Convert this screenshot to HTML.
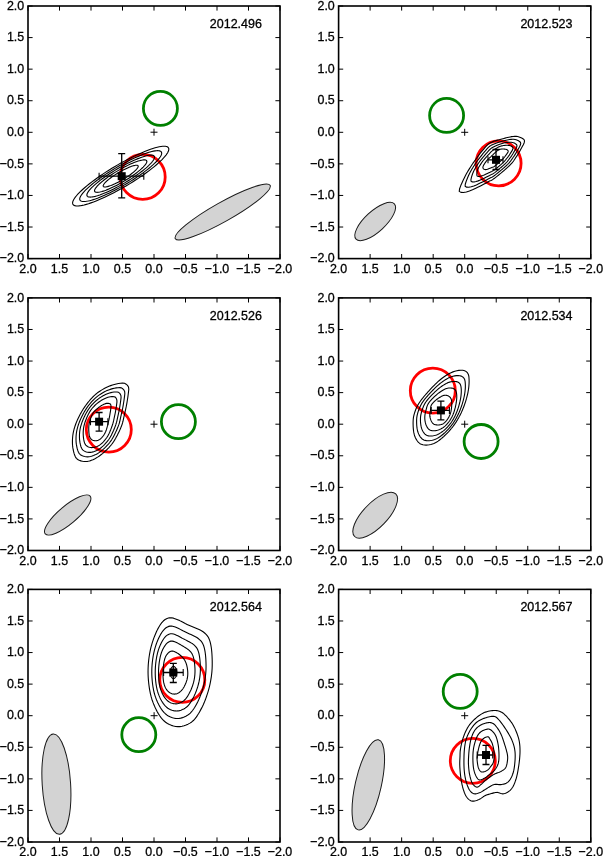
<!DOCTYPE html><html><head><meta charset="utf-8"><style>html,body{margin:0;padding:0;background:#fff;overflow:hidden}svg{display:block}text{font-family:"Liberation Sans",sans-serif;fill:#000;stroke:#000;stroke-width:0.3px}</style></head><body>
<svg width="603" height="856" viewBox="0 0 603 856" style="will-change:transform">
<rect width="603" height="856" fill="#fff"/>
<clipPath id="c0"><rect x="28" y="6" width="252" height="252.6"/></clipPath>
<g clip-path="url(#c0)">
<ellipse cx="0" cy="0" rx="54.4" ry="9.6" transform="translate(222.7 212) rotate(-29.4)" fill="#d3d3d3" stroke="#1a1a1a" stroke-width="1"/><circle cx="160.4" cy="108.4" r="17" fill="none" stroke="#008000" stroke-width="2.8"/><circle cx="142.7" cy="176.9" r="22.5" fill="none" stroke="#ff0000" stroke-width="2.8"/><path d="M168.47 147.85 168.74 148.54 168.81 149.35 168.67 150.27 168.32 151.31 167.77 152.45 167.02 153.69 166.07 155.03 164.92 156.45 163.59 157.97 162.07 159.55 160.38 161.22 158.51 162.94 156.48 164.72 154.3 166.55 151.98 168.42 149.52 170.32 146.94 172.25 144.25 174.19 141.45 176.15 138.57 178.1 135.61 180.04 132.59 181.97 129.51 183.87 126.4 185.74 123.26 187.57 120.12 189.35 116.97 191.07 113.84 192.72 110.74 194.31 107.69 195.82 104.68 197.24 101.75 198.57 98.9 199.81 96.14 200.95 93.49 201.98 90.95 202.89 88.54 203.7 86.27 204.38 84.15 204.95 82.18 205.39 80.38 205.7 78.75 205.89 77.3 205.95 76.03 205.88 74.96 205.69 74.08 205.37 73.4 204.92 72.93 204.35 72.66 203.66 72.59 202.85 72.73 201.93 73.08 200.89 73.63 199.75 74.38 198.51 75.33 197.17 76.48 195.75 77.81 194.23 79.33 192.65 81.02 190.98 82.89 189.26 84.92 187.48 87.1 185.65 89.42 183.78 91.88 181.88 94.46 179.95 97.15 178.01 99.95 176.05 102.83 174.1 105.79 172.16 108.81 170.23 111.89 168.33 115 166.46 118.14 164.63 121.28 162.85 124.43 161.13 127.56 159.48 130.66 157.89 133.71 156.38 136.72 154.96 139.65 153.63 142.5 152.39 145.26 151.25 147.91 150.22 150.45 149.31 152.86 148.5 155.13 147.82 157.25 147.25 159.22 146.81 161.02 146.5 162.65 146.31 164.1 146.25 165.37 146.32 166.44 146.51 167.32 146.83 168 147.28ZM161.4 152.03 161.63 152.62 161.69 153.31 161.57 154.09 161.27 154.98 160.8 155.95 160.16 157 159.35 158.14 158.38 159.36 157.24 160.65 155.95 162 154.5 163.42 152.91 164.89 151.19 166.4 149.33 167.96 147.35 169.56 145.26 171.18 143.06 172.82 140.76 174.48 138.38 176.14 135.93 177.8 133.4 179.46 130.83 181.1 128.21 182.72 125.56 184.31 122.89 185.87 120.2 187.39 117.52 188.85 114.86 190.26 112.22 191.61 109.61 192.9 107.05 194.11 104.56 195.25 102.13 196.3 99.78 197.27 97.52 198.15 95.35 198.93 93.3 199.61 91.37 200.2 89.56 200.68 87.88 201.05 86.34 201.32 84.96 201.48 83.72 201.53 82.64 201.48 81.73 201.31 80.98 201.04 80.4 200.66 80 200.17 79.77 199.58 79.71 198.89 79.83 198.11 80.13 197.22 80.6 196.25 81.24 195.2 82.05 194.06 83.02 192.84 84.16 191.55 85.45 190.2 86.9 188.78 88.49 187.31 90.21 185.8 92.07 184.24 94.05 182.64 96.14 181.02 98.34 179.38 100.64 177.72 103.02 176.06 105.47 174.4 108 172.74 110.57 171.1 113.19 169.48 115.84 167.89 118.51 166.33 121.2 164.81 123.88 163.35 126.54 161.94 129.18 160.59 131.79 159.3 134.35 158.09 136.84 156.95 139.27 155.9 141.62 154.93 143.88 154.05 146.05 153.27 148.1 152.59 150.03 152 151.84 151.52 153.52 151.15 155.06 150.88 156.44 150.72 157.68 150.67 158.76 150.72 159.67 150.89 160.42 151.16 161 151.54ZM154.28 156.24 154.47 156.72 154.52 157.29 154.42 157.94 154.18 158.67 153.79 159.47 153.26 160.34 152.59 161.28 151.79 162.29 150.85 163.35 149.78 164.47 148.59 165.64 147.28 166.85 145.86 168.1 144.32 169.39 142.69 170.7 140.96 172.04 139.15 173.39 137.25 174.76 135.29 176.13 133.26 177.51 131.18 178.87 129.06 180.23 126.9 181.56 124.71 182.88 122.5 184.16 120.29 185.41 118.08 186.62 115.88 187.79 113.7 188.9 111.55 189.96 109.44 190.96 107.38 191.9 105.37 192.77 103.44 193.57 101.57 194.29 99.79 194.94 98.09 195.5 96.5 195.98 95 196.38 93.62 196.69 92.35 196.91 91.21 197.04 90.19 197.09 89.3 197.04 88.54 196.9 87.93 196.68 87.45 196.36 87.12 195.96 86.93 195.48 86.88 194.91 86.98 194.26 87.22 193.53 87.61 192.73 88.14 191.86 88.81 190.92 89.61 189.91 90.55 188.85 91.62 187.73 92.81 186.56 94.12 185.35 95.54 184.1 97.08 182.81 98.71 181.5 100.44 180.16 102.25 178.81 104.15 177.44 106.11 176.07 108.14 174.69 110.22 173.33 112.34 171.97 114.5 170.64 116.69 169.32 118.9 168.04 121.11 166.79 123.32 165.58 125.52 164.41 127.7 163.3 129.85 162.24 131.96 161.24 134.02 160.3 136.03 159.43 137.96 158.63 139.83 157.91 141.61 157.26 143.31 156.7 144.9 156.22 146.4 155.82 147.78 155.51 149.05 155.29 150.19 155.16 151.21 155.11 152.1 155.16 152.86 155.3 153.47 155.52 153.95 155.84ZM146.69 160.73 146.83 161.11 146.87 161.55 146.79 162.05 146.6 162.61 146.31 163.23 145.9 163.91 145.38 164.64 144.76 165.41 144.03 166.23 143.21 167.1 142.28 168 141.27 168.94 140.17 169.91 138.98 170.9 137.72 171.92 136.38 172.96 134.98 174.01 133.51 175.06 131.99 176.13 130.42 177.19 128.81 178.25 127.17 179.29 125.49 180.33 123.8 181.34 122.1 182.34 120.38 183.31 118.67 184.24 116.97 185.14 115.28 186.01 113.62 186.83 111.99 187.6 110.39 188.33 108.84 189 107.34 189.62 105.9 190.18 104.52 190.68 103.21 191.11 101.97 191.49 100.82 191.79 99.74 192.03 98.76 192.2 97.88 192.31 97.09 192.34 96.4 192.3 95.82 192.2 95.34 192.02 94.97 191.78 94.71 191.47 94.57 191.09 94.53 190.65 94.61 190.15 94.8 189.59 95.09 188.97 95.5 188.29 96.02 187.56 96.64 186.79 97.37 185.97 98.19 185.1 99.12 184.2 100.13 183.26 101.23 182.29 102.42 181.3 103.68 180.28 105.02 179.24 106.42 178.19 107.89 177.14 109.41 176.07 110.98 175.01 112.59 173.95 114.23 172.91 115.91 171.87 117.6 170.86 119.3 169.86 121.02 168.89 122.73 167.96 124.43 167.06 126.12 166.19 127.78 165.37 129.41 164.6 131.01 163.87 132.56 163.2 134.06 162.58 135.5 162.02 136.88 161.52 138.19 161.09 139.43 160.71 140.58 160.41 141.66 160.17 142.64 160 143.52 159.89 144.31 159.86 145 159.9 145.58 160 146.06 160.18 146.43 160.42ZM138.09 165.82 138.19 166.07 138.21 166.36 138.16 166.7 138.03 167.07 137.83 167.49 137.56 167.94 137.21 168.43 136.8 168.95 136.31 169.5 135.76 170.08 135.14 170.68 134.46 171.31 133.73 171.96 132.93 172.62 132.09 173.3 131.19 174 130.25 174.7 129.27 175.41 128.25 176.12 127.21 176.83 126.13 177.54 125.03 178.24 123.91 178.93 122.78 179.61 121.63 180.27 120.49 180.92 119.34 181.55 118.2 182.15 117.08 182.73 115.96 183.28 114.87 183.8 113.8 184.28 112.76 184.73 111.76 185.14 110.8 185.52 109.87 185.85 108.99 186.15 108.17 186.39 107.39 186.6 106.68 186.76 106.02 186.88 105.43 186.94 104.9 186.97 104.44 186.94 104.05 186.87 103.73 186.75 103.48 186.59 103.31 186.38 103.21 186.13 103.19 185.84 103.24 185.5 103.37 185.13 103.57 184.71 103.84 184.26 104.19 183.77 104.6 183.25 105.09 182.7 105.64 182.12 106.26 181.52 106.94 180.89 107.67 180.24 108.47 179.58 109.31 178.9 110.21 178.2 111.15 177.5 112.13 176.79 113.15 176.08 114.19 175.37 115.27 174.66 116.37 173.96 117.49 173.27 118.62 172.59 119.77 171.93 120.91 171.28 122.06 170.65 123.2 170.05 124.32 169.47 125.44 168.92 126.53 168.4 127.6 167.92 128.64 167.47 129.64 167.06 130.6 166.68 131.53 166.35 132.41 166.05 133.23 165.81 134.01 165.6 134.72 165.44 135.38 165.32 135.97 165.26 136.5 165.23 136.96 165.26 137.35 165.33 137.67 165.45 137.92 165.61Z" fill="none" stroke="#000" stroke-width="1.1" stroke-linejoin="round"/><path d="M150.5 132.2h7M154 128.7v7" stroke="#000" stroke-width="1" fill="none"/><path d="M121.7 153.7V197.9M118.2 153.7h7M118.2 197.9h7" stroke="#000" stroke-width="1.3" fill="none"/><path d="M99.1 176.2H143.8" stroke="#000" stroke-width="1.3" fill="none"/><path d="M99.1 172.7v7M143.8 172.7v7" stroke="#000" stroke-width="1.1" fill="none"/><rect x="117.7" y="172.2" width="8" height="8" fill="#000"/>
</g>
<path d="M28 258.6v-4.6M28 6v4.6M28 6h4.6M280 6h-4.6M59.5 258.6v-4.6M59.5 6v4.6M28 37.58h4.6M280 37.58h-4.6M91 258.6v-4.6M91 6v4.6M28 69.15h4.6M280 69.15h-4.6M122.5 258.6v-4.6M122.5 6v4.6M28 100.73h4.6M280 100.73h-4.6M154 258.6v-4.6M154 6v4.6M28 132.3h4.6M280 132.3h-4.6M185.5 258.6v-4.6M185.5 6v4.6M28 163.88h4.6M280 163.88h-4.6M217 258.6v-4.6M217 6v4.6M28 195.45h4.6M280 195.45h-4.6M248.5 258.6v-4.6M248.5 6v4.6M28 227.03h4.6M280 227.03h-4.6M280 258.6v-4.6M280 6v4.6M28 258.6h4.6M280 258.6h-4.6" stroke="#000" stroke-width="1.0" fill="none"/>
<rect x="28" y="6" width="252" height="252.6" fill="none" stroke="#000" stroke-width="1.6"/>
<g font-size="13.4"><text transform="translate(28 272.9) scale(0.93 1)" text-anchor="middle">2.0</text><text transform="translate(24.2 9.7) scale(0.93 1)" text-anchor="end">2.0</text><text transform="translate(59.5 272.9) scale(0.93 1)" text-anchor="middle">1.5</text><text transform="translate(24.2 41.28) scale(0.93 1)" text-anchor="end">1.5</text><text transform="translate(91 272.9) scale(0.93 1)" text-anchor="middle">1.0</text><text transform="translate(24.2 72.85) scale(0.93 1)" text-anchor="end">1.0</text><text transform="translate(122.5 272.9) scale(0.93 1)" text-anchor="middle">0.5</text><text transform="translate(24.2 104.43) scale(0.93 1)" text-anchor="end">0.5</text><text transform="translate(154 272.9) scale(0.93 1)" text-anchor="middle">0.0</text><text transform="translate(24.2 136) scale(0.93 1)" text-anchor="end">0.0</text><text transform="translate(185.5 272.9) scale(0.93 1)" text-anchor="middle">−0.5</text><text transform="translate(24.2 167.57) scale(0.93 1)" text-anchor="end">−0.5</text><text transform="translate(217 272.9) scale(0.93 1)" text-anchor="middle">−1.0</text><text transform="translate(24.2 199.15) scale(0.93 1)" text-anchor="end">−1.0</text><text transform="translate(248.5 272.9) scale(0.93 1)" text-anchor="middle">−1.5</text><text transform="translate(24.2 230.73) scale(0.93 1)" text-anchor="end">−1.5</text><text transform="translate(280 272.9) scale(0.93 1)" text-anchor="middle">−2.0</text><text transform="translate(24.2 262.3) scale(0.93 1)" text-anchor="end">−2.0</text></g>
<text x="209.8" y="28" font-size="12.5">2012.496</text>
<clipPath id="c1"><rect x="338.6" y="6" width="252.2" height="252.6"/></clipPath>
<g clip-path="url(#c1)">
<ellipse cx="0" cy="0" rx="26" ry="10.2" transform="translate(375.2 221.5) rotate(-42.5)" fill="#d3d3d3" stroke="#1a1a1a" stroke-width="1"/><circle cx="446.6" cy="115.4" r="17" fill="none" stroke="#008000" stroke-width="2.8"/><circle cx="498.6" cy="163.3" r="22.5" fill="none" stroke="#ff0000" stroke-width="2.8"/><path d="M514.21 160 513.73 160.7 513.25 161.36 512.78 161.99 512.29 162.58 511.82 163.15 511.34 163.68 510.87 164.19 510.41 164.68 509.95 165.15 509.5 165.59 509.06 166.02 508.62 166.43 508.19 166.83 507.77 167.21 507.36 167.59 506.95 167.96 506.55 168.32 506.15 168.67 505.75 169.02 505.36 169.36 504.97 169.7 504.58 170.04 504.18 170.38 503.79 170.72 503.39 171.06 502.99 171.4 502.58 171.75 502.16 172.1 501.74 172.45 501.31 172.82 500.86 173.19 500.41 173.56 499.94 173.95 499.45 174.36 498.94 174.77 498.41 175.2 497.85 175.65 497.27 176.12 496.65 176.61 496 177.12 495.31 177.66 494.57 178.23 493.77 178.8 492.93 179.38 492.04 179.92 491.1 180.4 490.12 180.85 489.06 181.35 487.9 181.97 486.61 182.67 485.19 183.45 483.62 184.3 481.87 185.23 479.92 186.24 477.74 187.32 475.28 188.52 472.49 189.82 469.44 191.09 466.37 192.06 463.44 192.56 460.95 192.4 459.24 191.4 459.61 188.69 460.77 185.59 462.04 182.69 463.26 180.06 464.41 177.69 465.49 175.55 466.55 173.58 467.58 171.77 468.56 170.12 469.49 168.61 470.36 167.23 471.18 165.96 471.93 164.79 472.66 163.7 473.35 162.68 474.02 161.73 474.65 160.84 475.25 160 475.83 159.21 476.38 158.46 476.91 157.74 477.42 157.06 477.9 156.4 478.37 155.77 478.82 155.15 479.26 154.56 479.68 153.98 480.1 153.41 480.51 152.86 480.93 152.32 481.35 151.8 481.78 151.28 482.21 150.78 482.64 150.29 483.07 149.81 483.49 149.32 483.91 148.82 484.32 148.32 484.73 147.81 485.15 147.29 485.58 146.78 486.03 146.27 486.49 145.77 486.98 145.28 487.49 144.81 488.03 144.35 488.59 143.92 489.17 143.51 489.78 143.13 490.41 142.79 491.05 142.46 491.72 142.16 492.4 141.88 493.09 141.61 493.79 141.35 494.51 141.1 495.25 140.85 496 140.62 496.77 140.38 497.56 140.15 498.38 139.92 499.22 139.68 500.09 139.45 500.99 139.21 501.93 138.96 502.92 138.7 503.96 138.43 505.06 138.14 506.22 137.84 507.45 137.53 508.75 137.23 510.13 136.93 511.59 136.66 513.11 136.45 514.67 136.32 516.2 136.34 517.67 136.56 519.07 136.93 520.41 137.44 521.69 138.06 522.94 138.76 524.05 139.62 524.53 140.93 524.2 142.72 523.32 144.7 522.3 146.6 521.36 148.31 520.53 149.84 519.75 151.24 519.01 152.52 518.3 153.71 517.61 154.81 516.95 155.83 516.31 156.78 515.73 157.66 515.2 158.49 514.7 159.27ZM511.35 160 510.93 160.59 510.51 161.14 510.09 161.67 509.68 162.17 509.27 162.64 508.87 163.09 508.47 163.52 508.07 163.92 507.69 164.31 507.31 164.68 506.94 165.04 506.57 165.39 506.21 165.72 505.86 166.04 505.51 166.36 505.17 166.66 504.84 166.97 504.5 167.26 504.17 167.55 503.84 167.84 503.51 168.13 503.18 168.41 502.86 168.7 502.53 168.98 502.19 169.27 501.85 169.55 501.51 169.84 501.16 170.14 500.81 170.43 500.45 170.74 500.08 171.05 499.69 171.37 499.3 171.69 498.89 172.03 498.46 172.38 498.02 172.74 497.55 173.12 497.06 173.51 496.55 173.93 496 174.36 495.42 174.81 494.8 175.29 494.13 175.78 493.42 176.26 492.67 176.73 491.88 177.15 491.05 177.55 490.16 177.98 489.17 178.5 488.1 179.08 486.91 179.71 485.61 180.39 484.16 181.15 482.53 181.97 480.72 182.86 478.68 183.84 476.36 184.92 473.81 185.98 471.23 186.8 468.75 187.25 466.63 187.15 465.13 186.36 465.27 184.22 466.04 181.76 466.92 179.43 467.8 177.28 468.66 175.31 469.52 173.49 470.41 171.8 471.29 170.23 472.14 168.8 472.95 167.49 473.71 166.29 474.42 165.18 475.09 164.16 475.73 163.21 476.33 162.33 476.92 161.5 477.48 160.73 478.02 160 478.54 159.31 479.04 158.66 479.51 158.05 479.97 157.46 480.41 156.9 480.83 156.36 481.23 155.83 481.62 155.33 482 154.84 482.37 154.35 482.74 153.89 483.1 153.43 483.47 152.98 483.84 152.55 484.21 152.12 484.58 151.71 484.96 151.29 485.32 150.88 485.68 150.46 486.03 150.03 486.39 149.6 486.75 149.17 487.12 148.74 487.51 148.31 487.9 147.88 488.32 147.47 488.75 147.06 489.21 146.67 489.68 146.29 490.17 145.93 490.69 145.6 491.22 145.29 491.77 144.99 492.33 144.71 492.91 144.45 493.49 144.18 494.1 143.93 494.72 143.68 495.35 143.43 496 143.19 496.67 142.94 497.36 142.69 498.08 142.45 498.82 142.2 499.59 141.95 500.39 141.7 501.23 141.44 502.11 141.19 503.03 140.94 504 140.68 505.02 140.43 506.1 140.17 507.24 139.93 508.44 139.7 509.7 139.5 511.01 139.34 512.35 139.26 513.68 139.3 514.96 139.49 516.18 139.82 517.34 140.27 518.45 140.83 519.5 141.47 520.4 142.27 520.75 143.47 520.37 145.07 519.53 146.83 518.59 148.49 517.75 149.97 517.01 151.3 516.31 152.51 515.64 153.62 515 154.64 514.39 155.59 513.79 156.46 513.22 157.27 512.71 158.02 512.23 158.72 511.78 159.38ZM508.49 160 508.12 160.48 507.76 160.93 507.41 161.35 507.07 161.75 506.73 162.13 506.39 162.49 506.07 162.84 505.74 163.17 505.43 163.48 505.12 163.78 504.82 164.06 504.52 164.34 504.23 164.61 503.95 164.87 503.67 165.12 503.39 165.37 503.12 165.61 502.85 165.85 502.58 166.09 502.32 166.32 502.06 166.55 501.79 166.78 501.53 167.01 501.26 167.24 500.99 167.47 500.72 167.7 500.44 167.94 500.16 168.17 499.88 168.41 499.59 168.66 499.29 168.91 498.98 169.17 498.66 169.43 498.33 169.71 497.99 169.99 497.63 170.28 497.25 170.59 496.86 170.91 496.44 171.24 496 171.6 495.53 171.96 495.03 172.35 494.49 172.75 493.92 173.15 493.31 173.54 492.66 173.9 491.98 174.25 491.25 174.62 490.45 175.04 489.58 175.5 488.64 175.97 487.6 176.49 486.44 177.07 485.15 177.71 483.71 178.4 482.07 179.17 480.22 180.02 478.18 180.87 476.09 181.54 474.06 181.94 472.3 181.91 471.03 181.33 470.93 179.76 471.31 177.93 471.8 176.17 472.34 174.5 472.91 172.93 473.56 171.43 474.27 170.02 475 168.7 475.72 167.48 476.41 166.37 477.06 165.34 477.67 164.4 478.24 163.53 478.79 162.73 479.32 161.97 479.82 161.27 480.31 160.62 480.78 160 481.24 159.42 481.69 158.87 482.11 158.36 482.52 157.87 482.91 157.4 483.29 156.95 483.64 156.51 483.99 156.1 484.32 155.69 484.64 155.3 484.96 154.91 485.28 154.54 485.59 154.17 485.9 153.81 486.22 153.46 486.53 153.12 486.84 152.78 487.15 152.44 487.45 152.1 487.75 151.75 488.05 151.4 488.35 151.05 488.66 150.69 488.98 150.34 489.31 149.99 489.66 149.65 490.02 149.31 490.39 148.99 490.78 148.67 491.18 148.36 491.6 148.07 492.03 147.79 492.48 147.52 492.94 147.27 493.42 147.01 493.9 146.76 494.4 146.51 494.92 146.26 495.45 146.01 496 145.76 496.57 145.5 497.16 145.24 497.78 144.98 498.42 144.71 499.09 144.44 499.8 144.18 500.53 143.93 501.3 143.68 502.11 143.45 502.95 143.22 503.83 143.01 504.76 142.81 505.73 142.63 506.74 142.47 507.81 142.33 508.91 142.24 510.03 142.2 511.16 142.25 512.25 142.42 513.29 142.71 514.27 143.11 515.2 143.6 516.06 144.19 516.76 144.92 516.96 146 516.53 147.42 515.73 148.95 514.88 150.38 514.14 151.64 513.48 152.76 512.87 153.78 512.28 154.71 511.71 155.57 511.16 156.36 510.64 157.09 510.14 157.76 509.68 158.38 509.26 158.96 508.87 159.49ZM505.5 160 505.19 160.36 504.9 160.7 504.62 161.02 504.34 161.32 504.07 161.61 503.81 161.87 503.56 162.13 503.31 162.38 503.07 162.61 502.83 162.83 502.61 163.05 502.38 163.25 502.17 163.45 501.95 163.65 501.74 163.84 501.54 164.02 501.33 164.2 501.13 164.38 500.93 164.56 500.73 164.73 500.54 164.91 500.34 165.08 500.14 165.25 499.94 165.42 499.74 165.6 499.54 165.77 499.33 165.95 499.12 166.13 498.91 166.31 498.69 166.49 498.47 166.68 498.23 166.88 498 167.08 497.75 167.28 497.49 167.5 497.22 167.72 496.94 167.95 496.64 168.19 496.33 168.44 496 168.71 495.65 168.99 495.27 169.28 494.87 169.59 494.43 169.9 493.97 170.21 493.48 170.51 492.95 170.8 492.39 171.1 491.78 171.43 491.13 171.75 490.43 172.08 489.67 172.42 488.83 172.81 487.88 173.25 486.82 173.74 485.61 174.3 484.25 174.91 482.74 175.53 481.16 176.05 479.6 176.4 478.22 176.44 477.18 176.08 476.84 175.1 476.81 173.94 476.9 172.76 477.07 171.6 477.35 170.44 477.77 169.29 478.3 168.16 478.88 167.09 479.45 166.1 480.01 165.19 480.55 164.36 481.06 163.59 481.54 162.88 481.99 162.22 482.43 161.61 482.85 161.03 483.26 160.5 483.67 160 484.07 159.53 484.45 159.09 484.83 158.68 485.19 158.29 485.53 157.92 485.85 157.56 486.16 157.22 486.45 156.9 486.74 156.58 487.01 156.28 487.28 155.98 487.54 155.69 487.8 155.41 488.06 155.13 488.31 154.86 488.56 154.6 488.81 154.33 489.06 154.07 489.3 153.81 489.54 153.54 489.78 153.27 490.02 153 490.27 152.73 490.53 152.46 490.78 152.19 491.05 151.93 491.33 151.66 491.62 151.4 491.92 151.15 492.23 150.89 492.55 150.65 492.88 150.41 493.23 150.16 493.58 149.93 493.95 149.69 494.33 149.45 494.72 149.2 495.13 148.96 495.56 148.7 496 148.44 496.46 148.17 496.95 147.9 497.47 147.62 498.01 147.34 498.58 147.05 499.17 146.78 499.8 146.52 500.46 146.28 501.14 146.07 501.85 145.88 502.59 145.71 503.35 145.57 504.15 145.45 504.98 145.35 505.83 145.29 506.71 145.26 507.61 145.27 508.52 145.34 509.42 145.48 510.27 145.73 511.08 146.06 511.81 146.5 512.46 147.02 512.95 147.69 513 148.64 512.53 149.87 511.77 151.17 511.01 152.35 510.37 153.38 509.81 154.28 509.28 155.1 508.77 155.85 508.28 156.54 507.8 157.17 507.35 157.74 506.92 158.27 506.52 158.75 506.16 159.2 505.82 159.61ZM501.77 160 501.54 160.22 501.32 160.42 501.12 160.61 500.93 160.78 500.75 160.94 500.58 161.1 500.42 161.25 500.27 161.39 500.12 161.52 499.98 161.65 499.84 161.77 499.71 161.89 499.58 162.01 499.46 162.12 499.33 162.23 499.21 162.34 499.1 162.44 498.98 162.54 498.86 162.65 498.75 162.75 498.63 162.85 498.52 162.95 498.41 163.05 498.29 163.15 498.17 163.25 498.06 163.36 497.94 163.46 497.82 163.57 497.69 163.67 497.57 163.78 497.44 163.9 497.3 164.01 497.16 164.13 497.02 164.25 496.87 164.38 496.71 164.51 496.55 164.65 496.38 164.79 496.19 164.95 496 165.11 495.79 165.27 495.57 165.45 495.33 165.64 495.07 165.84 494.8 166.05 494.49 166.27 494.17 166.49 493.82 166.71 493.45 166.91 493.07 167.07 492.68 167.2 492.26 167.33 491.81 167.49 491.29 167.68 490.7 167.93 490.04 168.21 489.28 168.52 488.43 168.86 487.5 169.19 486.53 169.47 485.62 169.6 484.87 169.51 484.22 169.28 483.69 168.95 483.27 168.51 482.99 167.97 482.9 167.34 483.03 166.61 483.34 165.84 483.72 165.09 484.12 164.38 484.52 163.73 484.92 163.13 485.29 162.57 485.65 162.06 485.99 161.59 486.32 161.15 486.63 160.74 486.95 160.36 487.27 160 487.6 159.67 487.91 159.36 488.22 159.08 488.52 158.81 488.79 158.57 489.06 158.33 489.3 158.11 489.54 157.9 489.76 157.7 489.98 157.5 490.18 157.32 490.38 157.13 490.57 156.96 490.75 156.78 490.93 156.61 491.1 156.44 491.27 156.27 491.44 156.11 491.61 155.94 491.78 155.78 491.95 155.61 492.11 155.45 492.28 155.28 492.45 155.12 492.62 154.95 492.8 154.78 492.98 154.6 493.16 154.43 493.35 154.24 493.54 154.06 493.74 153.87 493.94 153.67 494.16 153.46 494.38 153.25 494.61 153.04 494.86 152.81 495.12 152.57 495.4 152.32 495.69 152.06 496 151.8 496.33 151.51 496.69 151.22 497.07 150.92 497.49 150.62 497.93 150.3 498.4 150.02 498.89 149.76 499.4 149.54 499.93 149.34 500.48 149.19 501.03 149.08 501.6 149.01 502.18 148.97 502.76 148.96 503.36 148.98 503.97 149.03 504.59 149.1 505.23 149.19 505.88 149.31 506.5 149.5 507.08 149.76 507.58 150.11 507.97 150.56 508.19 151.14 508.06 151.94 507.53 152.94 506.83 153.94 506.18 154.81 505.66 155.55 505.21 156.18 504.79 156.76 504.38 157.28 503.98 157.75 503.6 158.18 503.23 158.56 502.89 158.91 502.58 159.22 502.28 159.51 502.02 159.76Z" fill="none" stroke="#000" stroke-width="1.1" stroke-linejoin="round"/><path d="M461.2 132.3h7M464.7 128.8v7" stroke="#000" stroke-width="1" fill="none"/><path d="M496 149.5V169.5M492.5 149.5h7M492.5 169.5h7" stroke="#000" stroke-width="1.3" fill="none"/><path d="M488 159.8H503" stroke="#000" stroke-width="1.3" fill="none"/><path d="M488 156.3v7M503 156.3v7" stroke="#000" stroke-width="1.1" fill="none"/><rect x="492" y="155.8" width="8" height="8" fill="#000"/>
</g>
<path d="M338.6 258.6v-4.6M338.6 6v4.6M338.6 6h4.6M590.8 6h-4.6M370.12 258.6v-4.6M370.12 6v4.6M338.6 37.58h4.6M590.8 37.58h-4.6M401.65 258.6v-4.6M401.65 6v4.6M338.6 69.15h4.6M590.8 69.15h-4.6M433.18 258.6v-4.6M433.18 6v4.6M338.6 100.73h4.6M590.8 100.73h-4.6M464.7 258.6v-4.6M464.7 6v4.6M338.6 132.3h4.6M590.8 132.3h-4.6M496.22 258.6v-4.6M496.22 6v4.6M338.6 163.88h4.6M590.8 163.88h-4.6M527.75 258.6v-4.6M527.75 6v4.6M338.6 195.45h4.6M590.8 195.45h-4.6M559.27 258.6v-4.6M559.27 6v4.6M338.6 227.03h4.6M590.8 227.03h-4.6M590.8 258.6v-4.6M590.8 6v4.6M338.6 258.6h4.6M590.8 258.6h-4.6" stroke="#000" stroke-width="1.0" fill="none"/>
<rect x="338.6" y="6" width="252.2" height="252.6" fill="none" stroke="#000" stroke-width="1.6"/>
<g font-size="13.4"><text transform="translate(338.6 272.9) scale(0.93 1)" text-anchor="middle">2.0</text><text transform="translate(334.8 9.7) scale(0.93 1)" text-anchor="end">2.0</text><text transform="translate(370.12 272.9) scale(0.93 1)" text-anchor="middle">1.5</text><text transform="translate(334.8 41.28) scale(0.93 1)" text-anchor="end">1.5</text><text transform="translate(401.65 272.9) scale(0.93 1)" text-anchor="middle">1.0</text><text transform="translate(334.8 72.85) scale(0.93 1)" text-anchor="end">1.0</text><text transform="translate(433.18 272.9) scale(0.93 1)" text-anchor="middle">0.5</text><text transform="translate(334.8 104.43) scale(0.93 1)" text-anchor="end">0.5</text><text transform="translate(464.7 272.9) scale(0.93 1)" text-anchor="middle">0.0</text><text transform="translate(334.8 136) scale(0.93 1)" text-anchor="end">0.0</text><text transform="translate(496.22 272.9) scale(0.93 1)" text-anchor="middle">−0.5</text><text transform="translate(334.8 167.57) scale(0.93 1)" text-anchor="end">−0.5</text><text transform="translate(527.75 272.9) scale(0.93 1)" text-anchor="middle">−1.0</text><text transform="translate(334.8 199.15) scale(0.93 1)" text-anchor="end">−1.0</text><text transform="translate(559.27 272.9) scale(0.93 1)" text-anchor="middle">−1.5</text><text transform="translate(334.8 230.73) scale(0.93 1)" text-anchor="end">−1.5</text><text transform="translate(590.8 272.9) scale(0.93 1)" text-anchor="middle">−2.0</text><text transform="translate(334.8 262.3) scale(0.93 1)" text-anchor="end">−2.0</text></g>
<text x="520.4" y="28" font-size="12.5">2012.523</text>
<clipPath id="c2"><rect x="28" y="297.9" width="252" height="252.6"/></clipPath>
<g clip-path="url(#c2)">
<ellipse cx="0" cy="0" rx="29.3" ry="9" transform="translate(67.7 515) rotate(-40)" fill="#d3d3d3" stroke="#1a1a1a" stroke-width="1"/><circle cx="178.4" cy="421.7" r="17" fill="none" stroke="#008000" stroke-width="2.8"/><circle cx="108.8" cy="429.6" r="22.5" fill="none" stroke="#ff0000" stroke-width="2.8"/><path d="M122.91 421.5 122.67 422.43 122.41 423.34 122.12 424.24 121.82 425.11 121.5 425.98 121.18 426.82 120.84 427.66 120.5 428.48 120.15 429.3 119.79 430.11 119.42 430.91 119.05 431.71 118.66 432.51 118.27 433.31 117.87 434.11 117.46 434.91 117.03 435.72 116.6 436.53 116.15 437.36 115.7 438.2 115.22 439.05 114.72 439.91 114.19 440.77 113.64 441.65 113.04 442.52 112.42 443.39 111.75 444.26 111.04 445.13 110.29 446 109.51 446.87 108.69 447.76 107.82 448.66 106.92 449.56 105.96 450.49 104.95 451.43 103.89 452.38 102.77 453.35 101.58 454.31 100.33 455.27 99 456.23 97.6 457.15 96.12 458.05 94.57 458.9 92.95 459.68 91.27 460.36 89.53 460.93 87.77 461.33 86 461.52 84.26 461.46 82.53 461.25 80.84 460.88 79.22 460.32 77.71 459.52 76.41 458.37 75.38 456.84 74.61 455.07 74.01 453.2 73.54 451.31 73.14 449.48 72.82 447.68 72.6 445.91 72.47 444.16 72.42 442.46 72.42 440.81 72.48 439.22 72.58 437.69 72.72 436.22 72.9 434.8 73.12 433.43 73.37 432.12 73.65 430.85 73.96 429.64 74.28 428.47 74.62 427.35 74.96 426.28 75.31 425.25 75.67 424.26 76.03 423.31 76.39 422.39 76.75 421.5 77.12 420.64 77.48 419.81 77.85 419 78.22 418.21 78.59 417.44 78.96 416.69 79.33 415.95 79.7 415.23 80.08 414.52 80.46 413.82 80.84 413.13 81.23 412.44 81.62 411.76 82.01 411.09 82.42 410.42 82.83 409.75 83.25 409.08 83.68 408.41 84.12 407.74 84.57 407.07 85.04 406.4 85.52 405.72 86.02 405.04 86.54 404.35 87.07 403.65 87.62 402.94 88.2 402.21 88.8 401.48 89.42 400.73 90.08 399.96 90.76 399.18 91.49 398.38 92.25 397.56 93.05 396.73 93.91 395.9 94.81 395.05 95.77 394.21 96.79 393.38 97.86 392.56 99 391.75 100.2 390.94 101.47 390.14 102.81 389.35 104.22 388.55 105.71 387.74 107.29 386.97 108.94 386.27 110.66 385.63 112.45 385.03 114.34 384.46 116.32 383.93 118.36 383.51 120.44 383.22 122.55 383.07 124.54 383.27 126.12 384.17 127.5 385.35 128.51 386.95 128.8 389.26 128.5 392 128.19 394.52 127.87 396.84 127.55 398.99 127.23 400.99 126.92 402.84 126.61 404.58 126.31 406.21 125.99 407.75 125.68 409.2 125.37 410.58 125.07 411.88 124.78 413.12 124.5 414.31 124.24 415.44 123.99 416.53 123.76 417.58 123.55 418.59 123.34 419.58 123.13 420.55ZM119.75 421.5 119.54 422.31 119.32 423.1 119.08 423.88 118.83 424.64 118.56 425.39 118.28 426.13 118 426.86 117.72 427.58 117.42 428.3 117.12 429.01 116.82 429.71 116.5 430.42 116.18 431.12 115.85 431.83 115.52 432.54 115.17 433.25 114.82 433.97 114.45 434.7 114.08 435.44 113.69 436.19 113.29 436.95 112.86 437.73 112.41 438.51 111.94 439.3 111.43 440.1 110.89 440.9 110.31 441.69 109.7 442.49 109.05 443.29 108.36 444.1 107.64 444.92 106.88 445.74 106.07 446.59 105.23 447.44 104.33 448.3 103.38 449.18 102.38 450.06 101.32 450.93 100.19 451.79 99 452.63 97.75 453.42 96.43 454.17 95.05 454.87 93.62 455.5 92.13 456.04 90.6 456.47 89.06 456.76 87.51 456.85 86 456.73 84.51 456.47 83.06 456.07 81.68 455.49 80.4 454.71 79.31 453.62 78.46 452.24 77.82 450.66 77.32 449 76.93 447.34 76.6 445.73 76.34 444.16 76.16 442.61 76.06 441.09 76.01 439.62 76.02 438.2 76.06 436.83 76.14 435.51 76.25 434.24 76.4 433.02 76.58 431.84 76.79 430.7 77.02 429.61 77.27 428.56 77.53 427.55 77.81 426.59 78.1 425.66 78.39 424.76 78.69 423.9 78.99 423.07 79.29 422.27 79.6 421.5 79.9 420.75 80.21 420.02 80.52 419.31 80.83 418.62 81.14 417.95 81.45 417.29 81.76 416.64 82.08 416 82.4 415.38 82.72 414.76 83.04 414.14 83.37 413.54 83.7 412.93 84.04 412.33 84.39 411.74 84.74 411.14 85.1 410.54 85.47 409.94 85.85 409.34 86.24 408.74 86.65 408.14 87.07 407.53 87.5 406.91 87.95 406.29 88.42 405.67 88.91 405.03 89.42 404.39 89.95 403.73 90.5 403.07 91.09 402.39 91.7 401.71 92.34 401 93.02 400.29 93.73 399.56 94.49 398.83 95.29 398.09 96.14 397.35 97.04 396.62 97.99 395.89 99 395.16 100.06 394.44 101.19 393.72 102.37 393 103.63 392.28 104.95 391.56 106.35 390.87 107.82 390.23 109.35 389.65 110.95 389.12 112.62 388.63 114.35 388.19 116.13 387.88 117.94 387.69 119.76 387.62 121.45 387.9 122.77 388.79 123.87 389.96 124.65 391.47 124.84 393.54 124.58 395.92 124.29 398.12 124.01 400.14 123.73 402 123.46 403.73 123.19 405.34 122.92 406.84 122.66 408.25 122.39 409.58 122.13 410.84 121.86 412.03 121.61 413.16 121.36 414.23 121.12 415.26 120.9 416.24 120.68 417.19 120.49 418.1 120.3 418.98 120.12 419.84 119.94 420.68ZM116.73 421.5 116.56 422.19 116.37 422.87 116.18 423.53 115.97 424.19 115.75 424.83 115.52 425.47 115.29 426.1 115.06 426.72 114.82 427.34 114.58 427.95 114.33 428.57 114.07 429.18 113.81 429.8 113.55 430.42 113.27 431.04 112.99 431.67 112.7 432.3 112.4 432.95 112.09 433.6 111.77 434.27 111.44 434.96 111.08 435.65 110.71 436.35 110.31 437.07 109.88 437.79 109.43 438.51 108.94 439.24 108.41 439.97 107.85 440.71 107.26 441.45 106.64 442.2 105.97 442.97 105.27 443.74 104.53 444.53 103.74 445.32 102.9 446.12 102.01 446.92 101.06 447.71 100.06 448.47 99 449.19 97.89 449.86 96.72 450.47 95.51 451.03 94.25 451.51 92.95 451.91 91.63 452.22 90.29 452.39 88.96 452.39 87.67 452.22 86.4 451.91 85.18 451.47 84.03 450.88 82.98 450.11 82.09 449.1 81.4 447.84 80.88 446.44 80.48 444.99 80.17 443.55 79.91 442.15 79.71 440.79 79.57 439.46 79.49 438.17 79.45 436.91 79.45 435.71 79.48 434.54 79.54 433.43 79.63 432.35 79.74 431.31 79.88 430.31 80.05 429.35 80.23 428.43 80.43 427.53 80.64 426.68 80.86 425.85 81.09 425.06 81.33 424.3 81.57 423.56 81.82 422.85 82.06 422.17 82.31 421.5 82.56 420.85 82.81 420.23 83.06 419.61 83.32 419.02 83.57 418.43 83.83 417.86 84.09 417.29 84.35 416.74 84.61 416.19 84.88 415.65 85.14 415.11 85.42 414.58 85.69 414.05 85.98 413.52 86.27 412.99 86.56 412.46 86.87 411.93 87.18 411.4 87.5 410.87 87.83 410.33 88.18 409.79 88.54 409.25 88.91 408.7 89.3 408.15 89.71 407.6 90.14 407.04 90.58 406.47 91.05 405.89 91.54 405.31 92.05 404.72 92.59 404.12 93.15 403.51 93.75 402.89 94.38 402.27 95.05 401.63 95.75 400.99 96.5 400.35 97.29 399.71 98.12 399.07 99 398.42 99.93 397.78 100.92 397.13 101.96 396.49 103.06 395.85 104.23 395.21 105.46 394.59 106.75 394.02 108.1 393.49 109.51 393.02 110.97 392.61 112.48 392.26 114.01 392.05 115.55 391.95 117.1 391.97 118.51 392.31 119.57 393.19 120.4 394.35 120.96 395.79 121.07 397.63 120.83 399.67 120.58 401.55 120.33 403.28 120.09 404.87 119.86 406.35 119.63 407.72 119.4 409 119.18 410.2 118.95 411.33 118.73 412.4 118.51 413.42 118.3 414.38 118.09 415.3 117.9 416.17 117.71 417.01 117.53 417.81 117.36 418.59 117.2 419.35 117.05 420.08 116.89 420.8ZM113.42 421.5 113.29 422.06 113.15 422.61 112.99 423.16 112.84 423.69 112.67 424.22 112.5 424.74 112.33 425.26 112.15 425.77 111.97 426.29 111.79 426.8 111.61 427.31 111.42 427.83 111.22 428.34 111.02 428.87 110.82 429.4 110.6 429.93 110.38 430.48 110.16 431.03 109.92 431.6 109.68 432.18 109.42 432.77 109.14 433.37 108.85 433.99 108.53 434.62 108.19 435.26 107.83 435.9 107.43 436.55 107.01 437.21 106.55 437.88 106.06 438.55 105.54 439.23 104.99 439.92 104.39 440.63 103.76 441.34 103.09 442.06 102.37 442.78 101.6 443.49 100.79 444.18 99.92 444.84 99 445.43 98.04 445.96 97.04 446.42 96 446.82 94.94 447.14 93.85 447.39 92.75 447.55 91.64 447.6 90.55 447.51 89.49 447.27 88.47 446.91 87.5 446.43 86.6 445.83 85.8 445.07 85.13 444.13 84.62 443.03 84.23 441.83 83.94 440.6 83.72 439.39 83.54 438.23 83.4 437.1 83.3 436.01 83.24 434.96 83.21 433.95 83.2 432.98 83.22 432.04 83.26 431.14 83.32 430.28 83.4 429.45 83.5 428.65 83.62 427.87 83.75 427.13 83.89 426.41 84.04 425.72 84.2 425.05 84.37 424.41 84.55 423.79 84.73 423.19 84.91 422.61 85.1 422.05 85.28 421.5 85.47 420.97 85.66 420.45 85.85 419.94 86.04 419.45 86.24 418.96 86.43 418.48 86.63 418.01 86.83 417.55 87.03 417.09 87.24 416.63 87.45 416.17 87.66 415.72 87.87 415.27 88.1 414.82 88.32 414.37 88.56 413.91 88.8 413.46 89.05 413 89.31 412.54 89.58 412.08 89.86 411.61 90.15 411.14 90.46 410.67 90.78 410.19 91.12 409.71 91.48 409.23 91.85 408.74 92.25 408.25 92.67 407.76 93.1 407.26 93.56 406.76 94.05 406.26 94.56 405.74 95.09 405.22 95.66 404.7 96.26 404.17 96.89 403.64 97.55 403.1 98.26 402.55 99 401.99 99.79 401.43 100.62 400.87 101.51 400.32 102.44 399.76 103.43 399.2 104.48 398.67 105.58 398.16 106.73 397.7 107.93 397.29 109.16 396.96 110.42 396.72 111.68 396.61 112.94 396.61 114.18 396.73 115.28 397.14 116.06 398.01 116.61 399.17 116.92 400.52 116.93 402.11 116.72 403.78 116.51 405.32 116.3 406.72 116.11 408.02 115.91 409.21 115.73 410.32 115.54 411.36 115.37 412.34 115.19 413.25 115.01 414.12 114.84 414.94 114.68 415.72 114.52 416.46 114.36 417.17 114.21 417.85 114.07 418.5 113.94 419.13 113.81 419.75 113.68 420.34 113.56 420.93ZM108.54 421.5 108.46 421.87 108.37 422.24 108.29 422.6 108.21 422.96 108.12 423.31 108.03 423.67 107.94 424.02 107.85 424.38 107.76 424.73 107.67 425.09 107.58 425.46 107.48 425.82 107.39 426.2 107.29 426.58 107.18 426.97 107.07 427.37 106.96 427.78 106.84 428.2 106.71 428.63 106.57 429.07 106.43 429.53 106.27 430.01 106.09 430.5 105.9 431 105.69 431.52 105.46 432.04 105.21 432.58 104.93 433.13 104.62 433.69 104.29 434.26 103.92 434.84 103.52 435.43 103.1 436.02 102.63 436.63 102.13 437.23 101.59 437.83 101 438.41 100.37 438.96 99.71 439.46 99 439.87 98.27 440.19 97.51 440.43 96.74 440.59 95.96 440.68 95.18 440.71 94.4 440.66 93.63 440.52 92.89 440.29 92.19 439.96 91.53 439.53 90.94 438.99 90.41 438.36 89.97 437.63 89.62 436.8 89.37 435.91 89.19 435 89.06 434.11 88.96 433.25 88.89 432.43 88.85 431.65 88.81 430.92 88.78 430.23 88.77 429.57 88.76 428.94 88.76 428.34 88.77 427.77 88.79 427.22 88.81 426.69 88.85 426.18 88.89 425.69 88.95 425.21 89 424.75 89.07 424.3 89.14 423.87 89.22 423.45 89.3 423.04 89.39 422.64 89.49 422.25 89.58 421.87 89.68 421.5 89.77 421.14 89.87 420.78 89.97 420.43 90.08 420.09 90.18 419.75 90.28 419.41 90.39 419.07 90.5 418.74 90.62 418.41 90.73 418.07 90.85 417.74 90.97 417.41 91.1 417.08 91.23 416.74 91.37 416.4 91.51 416.06 91.66 415.71 91.82 415.36 91.98 415.01 92.15 414.65 92.34 414.3 92.53 413.93 92.75 413.57 92.97 413.2 93.21 412.83 93.46 412.47 93.74 412.1 94.03 411.74 94.34 411.38 94.66 411.02 95.01 410.67 95.37 410.32 95.74 409.96 96.14 409.6 96.56 409.24 97 408.87 97.46 408.49 97.95 408.1 98.46 407.69 99 407.27 99.58 406.83 100.19 406.4 100.84 405.97 101.53 405.54 102.26 405.11 103.04 404.69 103.85 404.29 104.71 403.92 105.6 403.61 106.5 403.4 107.38 403.31 108.24 403.36 109.07 403.51 109.86 403.77 110.5 404.28 110.88 405.14 111 406.28 110.94 407.51 110.81 408.73 110.65 409.85 110.49 410.88 110.35 411.81 110.21 412.66 110.08 413.45 109.96 414.18 109.84 414.86 109.73 415.49 109.62 416.09 109.52 416.65 109.42 417.18 109.32 417.69 109.23 418.18 109.14 418.64 109.05 419.09 108.96 419.52 108.88 419.94 108.79 420.34 108.71 420.74 108.62 421.12Z" fill="none" stroke="#000" stroke-width="1.1" stroke-linejoin="round"/><path d="M150.5 424.2h7M154 420.7v7" stroke="#000" stroke-width="1" fill="none"/><path d="M99.1 412.5V431.1M95.6 412.5h7M95.6 431.1h7" stroke="#000" stroke-width="1.3" fill="none"/><path d="M90.5 421.7H107.9" stroke="#000" stroke-width="1.3" fill="none"/><path d="M90.5 418.2v7M107.9 418.2v7" stroke="#000" stroke-width="1.1" fill="none"/><rect x="95.1" y="417.7" width="8" height="8" fill="#000"/>
</g>
<path d="M28 550.5v-4.6M28 297.9v4.6M28 297.9h4.6M280 297.9h-4.6M59.5 550.5v-4.6M59.5 297.9v4.6M28 329.47h4.6M280 329.47h-4.6M91 550.5v-4.6M91 297.9v4.6M28 361.05h4.6M280 361.05h-4.6M122.5 550.5v-4.6M122.5 297.9v4.6M28 392.62h4.6M280 392.62h-4.6M154 550.5v-4.6M154 297.9v4.6M28 424.2h4.6M280 424.2h-4.6M185.5 550.5v-4.6M185.5 297.9v4.6M28 455.77h4.6M280 455.77h-4.6M217 550.5v-4.6M217 297.9v4.6M28 487.35h4.6M280 487.35h-4.6M248.5 550.5v-4.6M248.5 297.9v4.6M28 518.92h4.6M280 518.92h-4.6M280 550.5v-4.6M280 297.9v4.6M28 550.5h4.6M280 550.5h-4.6" stroke="#000" stroke-width="1.0" fill="none"/>
<rect x="28" y="297.9" width="252" height="252.6" fill="none" stroke="#000" stroke-width="1.6"/>
<g font-size="13.4"><text transform="translate(28 564.8) scale(0.93 1)" text-anchor="middle">2.0</text><text transform="translate(24.2 301.6) scale(0.93 1)" text-anchor="end">2.0</text><text transform="translate(59.5 564.8) scale(0.93 1)" text-anchor="middle">1.5</text><text transform="translate(24.2 333.17) scale(0.93 1)" text-anchor="end">1.5</text><text transform="translate(91 564.8) scale(0.93 1)" text-anchor="middle">1.0</text><text transform="translate(24.2 364.75) scale(0.93 1)" text-anchor="end">1.0</text><text transform="translate(122.5 564.8) scale(0.93 1)" text-anchor="middle">0.5</text><text transform="translate(24.2 396.32) scale(0.93 1)" text-anchor="end">0.5</text><text transform="translate(154 564.8) scale(0.93 1)" text-anchor="middle">0.0</text><text transform="translate(24.2 427.9) scale(0.93 1)" text-anchor="end">0.0</text><text transform="translate(185.5 564.8) scale(0.93 1)" text-anchor="middle">−0.5</text><text transform="translate(24.2 459.47) scale(0.93 1)" text-anchor="end">−0.5</text><text transform="translate(217 564.8) scale(0.93 1)" text-anchor="middle">−1.0</text><text transform="translate(24.2 491.05) scale(0.93 1)" text-anchor="end">−1.0</text><text transform="translate(248.5 564.8) scale(0.93 1)" text-anchor="middle">−1.5</text><text transform="translate(24.2 522.62) scale(0.93 1)" text-anchor="end">−1.5</text><text transform="translate(280 564.8) scale(0.93 1)" text-anchor="middle">−2.0</text><text transform="translate(24.2 554.2) scale(0.93 1)" text-anchor="end">−2.0</text></g>
<text x="209.8" y="319.9" font-size="12.5">2012.526</text>
<clipPath id="c3"><rect x="338.6" y="297.9" width="252.2" height="252.6"/></clipPath>
<g clip-path="url(#c3)">
<ellipse cx="0" cy="0" rx="29.6" ry="12.2" transform="translate(375.2 515.2) rotate(-46)" fill="#d3d3d3" stroke="#1a1a1a" stroke-width="1"/><circle cx="432.8" cy="390.7" r="22.5" fill="none" stroke="#ff0000" stroke-width="2.8"/><circle cx="481.1" cy="441.5" r="17" fill="none" stroke="#008000" stroke-width="2.8"/><path d="M462.37 410.2 462 411.04 461.63 411.86 461.26 412.66 460.88 413.43 460.51 414.18 460.14 414.91 459.77 415.63 459.4 416.34 459.02 417.03 458.65 417.72 458.27 418.39 457.89 419.06 457.51 419.73 457.12 420.38 456.72 421.04 456.32 421.69 455.9 422.34 455.48 422.99 455.04 423.64 454.59 424.29 454.13 424.94 453.65 425.6 453.16 426.26 452.64 426.92 452.11 427.58 451.57 428.26 451 428.94 450.4 429.63 449.78 430.34 449.14 431.06 448.47 431.8 447.76 432.55 447.02 433.32 446.24 434.11 445.42 434.92 444.55 435.75 443.63 436.61 442.65 437.48 441.61 438.38 440.5 439.29 439.32 440.2 438.07 441.1 436.74 441.95 435.35 442.72 433.9 443.39 432.4 443.96 430.85 444.42 429.27 444.77 427.66 445 426.05 445.1 424.44 445.04 422.87 444.8 421.38 444.34 420.01 443.64 418.79 442.69 417.73 441.55 416.8 440.26 416 438.89 415.31 437.46 414.72 435.98 414.24 434.47 413.88 432.94 413.62 431.39 413.43 429.87 413.3 428.38 413.2 426.93 413.14 425.52 413.11 424.16 413.1 422.83 413.12 421.54 413.17 420.28 413.26 419.05 413.4 417.84 413.6 416.66 413.85 415.5 414.14 414.38 414.46 413.28 414.79 412.22 415.14 411.2 415.5 410.2 415.88 409.23 416.27 408.29 416.68 407.38 417.11 406.5 417.55 405.64 418.01 404.8 418.48 403.99 418.96 403.2 419.46 402.44 419.97 401.7 420.48 400.97 421 400.26 421.52 399.57 422.05 398.89 422.58 398.23 423.11 397.57 423.65 396.92 424.19 396.27 424.74 395.63 425.29 394.99 425.85 394.35 426.41 393.7 426.99 393.06 427.57 392.4 428.16 391.74 428.77 391.07 429.4 390.38 430.04 389.68 430.71 388.96 431.4 388.22 432.11 387.46 432.86 386.68 433.64 385.87 434.46 385.04 435.33 384.18 436.24 383.3 437.21 382.39 438.24 381.45 439.33 380.5 440.5 379.53 441.74 378.54 443.07 377.54 444.49 376.52 445.99 375.51 447.6 374.5 449.3 373.54 451.09 372.64 452.95 371.87 454.88 371.23 456.85 370.73 458.86 370.38 460.88 370.2 462.85 370.29 464.67 370.76 466.27 371.64 467.57 372.94 468.48 374.71 468.92 376.93 469.07 379.29 469.12 381.58 469.05 383.81 468.89 385.95 468.67 388 468.39 389.94 468.07 391.78 467.72 393.52 467.35 395.16 466.97 396.71 466.58 398.18 466.18 399.56 465.79 400.87 465.4 402.11 465 403.29 464.62 404.41 464.24 405.48 463.86 406.5 463.48 407.48 463.11 408.42 462.74 409.33ZM460.02 410.2 459.71 410.95 459.4 411.69 459.09 412.4 458.77 413.09 458.46 413.77 458.14 414.44 457.83 415.09 457.51 415.73 457.19 416.36 456.87 416.98 456.54 417.59 456.21 418.2 455.87 418.81 455.52 419.41 455.17 420 454.81 420.6 454.44 421.19 454.06 421.78 453.68 422.38 453.27 422.97 452.86 423.57 452.43 424.17 451.98 424.77 451.52 425.37 451.04 425.98 450.55 426.59 450.03 427.22 449.49 427.85 448.93 428.49 448.34 429.14 447.73 429.8 447.09 430.47 446.41 431.16 445.7 431.85 444.95 432.56 444.15 433.28 443.32 434 442.43 434.73 441.49 435.48 440.5 436.23 439.45 436.97 438.34 437.69 437.17 438.37 435.94 438.99 434.67 439.52 433.36 439.96 432.01 440.31 430.63 440.56 429.24 440.72 427.84 440.76 426.46 440.66 425.11 440.41 423.83 439.97 422.65 439.32 421.61 438.47 420.7 437.45 419.9 436.33 419.21 435.13 418.61 433.88 418.1 432.6 417.68 431.29 417.36 429.97 417.12 428.63 416.94 427.32 416.8 426.03 416.71 424.78 416.65 423.56 416.62 422.37 416.61 421.21 416.62 420.09 416.67 418.99 416.75 417.92 416.88 416.86 417.05 415.83 417.26 414.82 417.51 413.84 417.78 412.89 418.05 411.97 418.34 411.07 418.64 410.2 418.95 409.35 419.27 408.53 419.6 407.73 419.95 406.94 420.3 406.18 420.67 405.44 421.05 404.71 421.44 404.01 421.85 403.32 422.27 402.65 422.7 401.99 423.14 401.35 423.59 400.73 424.05 400.12 424.51 399.52 424.98 398.93 425.46 398.34 425.94 397.77 426.43 397.19 426.92 396.62 427.42 396.05 427.93 395.48 428.44 394.91 428.97 394.33 429.5 393.74 430.05 393.15 430.61 392.55 431.19 391.93 431.79 391.3 432.41 390.66 433.05 390 433.72 389.32 434.41 388.62 435.15 387.91 435.92 387.17 436.73 386.41 437.59 385.63 438.5 384.82 439.47 384.01 440.5 383.18 441.59 382.34 442.76 381.48 444 380.62 445.32 379.76 446.72 378.92 448.2 378.12 449.75 377.39 451.36 376.77 453.01 376.28 454.7 375.91 456.42 375.66 458.14 375.57 459.82 375.7 461.37 376.14 462.74 376.91 463.87 378.03 464.68 379.53 465.1 381.4 465.28 383.39 465.37 385.33 465.35 387.23 465.25 389.06 465.09 390.81 464.89 392.48 464.64 394.07 464.37 395.57 464.08 397 463.77 398.34 463.46 399.61 463.14 400.82 462.83 401.96 462.51 403.05 462.19 404.08 461.87 405.07 461.56 406.01 461.25 406.91 460.94 407.78 460.63 408.62 460.33 409.42ZM457.44 410.2 457.2 410.86 456.96 411.5 456.72 412.12 456.47 412.73 456.21 413.33 455.96 413.91 455.7 414.49 455.44 415.06 455.18 415.62 454.91 416.17 454.64 416.72 454.36 417.26 454.07 417.8 453.78 418.34 453.47 418.87 453.17 419.4 452.85 419.93 452.52 420.46 452.18 421 451.83 421.53 451.46 422.06 451.09 422.6 450.7 423.14 450.29 423.68 449.87 424.22 449.43 424.77 448.97 425.33 448.49 425.89 447.99 426.45 447.47 427.03 446.92 427.61 446.35 428.19 445.74 428.78 445.1 429.38 444.43 429.97 443.72 430.56 442.98 431.14 442.19 431.72 441.37 432.3 440.5 432.87 439.59 433.43 438.63 433.96 437.63 434.46 436.59 434.9 435.51 435.28 434.41 435.58 433.28 435.81 432.13 435.96 430.97 436.03 429.81 436.01 428.66 435.88 427.55 435.61 426.51 435.18 425.55 434.59 424.7 433.85 423.95 432.98 423.3 432.02 422.73 431.01 422.23 429.96 421.81 428.89 421.45 427.81 421.17 426.71 420.95 425.61 420.78 424.53 420.65 423.47 420.55 422.43 420.49 421.41 420.45 420.41 420.45 419.44 420.47 418.5 420.51 417.57 420.58 416.67 420.69 415.79 420.84 414.92 421.01 414.08 421.2 413.26 421.41 412.46 421.63 411.68 421.86 410.93 422.09 410.2 422.32 409.49 422.56 408.79 422.8 408.11 423.06 407.44 423.31 406.78 423.58 406.14 423.86 405.51 424.15 404.89 424.46 404.28 424.79 403.69 425.13 403.11 425.48 402.55 425.85 402 426.24 401.46 426.63 400.93 427.03 400.42 427.44 399.91 427.86 399.4 428.28 398.91 428.71 398.41 429.15 397.92 429.59 397.43 430.04 396.93 430.5 396.44 430.97 395.94 431.45 395.43 431.94 394.92 432.45 394.4 432.97 393.87 433.51 393.33 434.07 392.78 434.66 392.21 435.26 391.63 435.9 391.04 436.57 390.44 437.27 389.82 438.01 389.18 438.79 388.52 439.62 387.85 440.5 387.18 441.43 386.49 442.42 385.8 443.47 385.11 444.58 384.42 445.76 383.75 447 383.13 448.29 382.58 449.62 382.13 450.98 381.8 452.36 381.58 453.75 381.45 455.15 381.45 456.5 381.62 457.76 382.03 458.88 382.69 459.82 383.61 460.51 384.81 460.92 386.29 461.14 387.87 461.27 389.43 461.31 390.97 461.27 392.46 461.18 393.9 461.05 395.27 460.89 396.58 460.7 397.82 460.49 399 460.27 400.13 460.05 401.19 459.81 402.2 459.58 403.16 459.34 404.08 459.1 404.95 458.87 405.79 458.63 406.59 458.39 407.37 458.16 408.11 457.92 408.83 457.68 409.52ZM454.54 410.2 454.37 410.75 454.2 411.28 454.03 411.8 453.86 412.32 453.68 412.82 453.5 413.32 453.3 413.81 453.11 414.3 452.91 414.78 452.7 415.25 452.49 415.73 452.27 416.2 452.04 416.66 451.8 417.13 451.56 417.59 451.3 418.05 451.04 418.51 450.77 418.97 450.49 419.43 450.19 419.89 449.89 420.36 449.57 420.83 449.24 421.29 448.9 421.76 448.54 422.23 448.17 422.71 447.77 423.19 447.37 423.67 446.93 424.16 446.48 424.65 446.01 425.13 445.51 425.62 444.99 426.1 444.43 426.58 443.85 427.04 443.24 427.49 442.6 427.91 441.93 428.31 441.23 428.71 440.5 429.07 439.74 429.42 438.96 429.75 438.15 430.03 437.32 430.28 436.47 430.48 435.6 430.63 434.71 430.72 433.82 430.76 432.92 430.73 432.03 430.64 431.16 430.46 430.32 430.18 429.54 429.77 428.83 429.25 428.19 428.62 427.63 427.91 427.14 427.15 426.7 426.35 426.32 425.54 425.99 424.71 425.71 423.87 425.48 423.03 425.28 422.19 425.12 421.37 424.99 420.56 424.89 419.77 424.83 418.98 424.79 418.2 424.79 417.44 424.81 416.7 424.85 415.97 424.91 415.26 425 414.57 425.11 413.89 425.24 413.24 425.38 412.6 425.53 411.97 425.68 411.37 425.83 410.78 425.98 410.2 426.13 409.64 426.28 409.08 426.42 408.53 426.57 407.99 426.72 407.46 426.88 406.93 427.04 406.4 427.22 405.89 427.42 405.37 427.63 404.87 427.87 404.38 428.13 403.9 428.41 403.43 428.71 402.98 429.02 402.53 429.35 402.1 429.69 401.67 430.03 401.26 430.38 400.84 430.74 400.44 431.1 400.03 431.47 399.63 431.85 399.22 432.23 398.82 432.63 398.42 433.03 398.01 433.45 397.6 433.87 397.19 434.31 396.77 434.76 396.35 435.23 395.92 435.72 395.48 436.22 395.04 436.75 394.59 437.3 394.13 437.88 393.67 438.49 393.19 439.12 392.7 439.79 392.2 440.5 391.7 441.25 391.19 442.04 390.68 442.87 390.18 443.75 389.69 444.67 389.22 445.64 388.8 446.63 388.45 447.65 388.2 448.67 388.05 449.7 387.98 450.74 388 451.76 388.1 452.75 388.32 453.68 388.69 454.52 389.22 455.24 389.91 455.81 390.79 456.19 391.83 456.45 392.95 456.63 394.07 456.73 395.2 456.77 396.3 456.76 397.38 456.71 398.42 456.64 399.41 456.54 400.37 456.44 401.27 456.31 402.14 456.19 402.97 456.05 403.76 455.91 404.52 455.77 405.24 455.62 405.94 455.47 406.61 455.32 407.25 455.17 407.88 455.01 408.48 454.86 409.07 454.7 409.64ZM451.18 410.2 451.1 410.62 451.02 411.03 450.94 411.44 450.85 411.84 450.75 412.24 450.65 412.64 450.53 413.03 450.42 413.42 450.29 413.81 450.15 414.2 450.01 414.58 449.86 414.97 449.69 415.35 449.52 415.73 449.34 416.11 449.15 416.49 448.96 416.87 448.75 417.25 448.54 417.63 448.31 418.01 448.07 418.39 447.83 418.78 447.57 419.16 447.3 419.56 447.01 419.94 446.71 420.34 446.39 420.72 446.06 421.12 445.71 421.51 445.35 421.9 444.95 422.27 444.55 422.65 444.11 423.01 443.66 423.35 443.18 423.67 442.68 423.95 442.15 424.18 441.62 424.38 441.06 424.56 440.5 424.69 439.93 424.8 439.34 424.88 438.76 424.93 438.16 424.95 437.57 424.95 436.97 424.91 436.37 424.85 435.77 424.75 435.18 424.62 434.6 424.45 434.04 424.22 433.51 423.91 433.04 423.53 432.61 423.08 432.22 422.59 431.88 422.07 431.57 421.53 431.29 420.98 431.04 420.43 430.82 419.88 430.63 419.33 430.45 418.79 430.28 418.25 430.14 417.73 430 417.21 429.9 416.7 429.83 416.17 429.8 415.65 429.8 415.13 429.82 414.63 429.85 414.13 429.91 413.64 429.97 413.17 430.04 412.71 430.12 412.27 430.19 411.83 430.27 411.41 430.34 411 430.41 410.6 430.47 410.2 430.52 409.81 430.56 409.42 430.6 409.03 430.62 408.64 430.65 408.24 430.68 407.84 430.71 407.44 430.76 407.03 430.83 406.63 430.92 406.23 431.04 405.84 431.19 405.45 431.36 405.08 431.57 404.73 431.79 404.38 432.02 404.04 432.27 403.71 432.53 403.39 432.8 403.08 433.07 402.77 433.35 402.46 433.64 402.17 433.93 401.87 434.23 401.57 434.54 401.28 434.86 400.99 435.18 400.7 435.51 400.41 435.85 400.12 436.2 399.83 436.57 399.54 436.94 399.25 437.33 398.97 437.74 398.68 438.15 398.4 438.59 398.11 439.03 397.82 439.5 397.52 439.99 397.22 440.5 396.91 441.03 396.61 441.59 396.31 442.18 396.03 442.79 395.76 443.42 395.53 444.07 395.34 444.72 395.23 445.38 395.2 446.01 395.26 446.64 395.38 447.25 395.55 447.85 395.77 448.43 396.05 448.97 396.37 449.48 396.76 449.95 397.19 450.37 397.68 450.74 398.21 451.04 398.8 451.28 399.42 451.45 400.07 451.58 400.74 451.66 401.4 451.71 402.06 451.75 402.69 451.76 403.3 451.76 403.89 451.75 404.47 451.73 405.02 451.71 405.56 451.67 406.08 451.64 406.58 451.59 407.07 451.55 407.55 451.5 408.01 451.44 408.47 451.38 408.91 451.32 409.35 451.25 409.78Z" fill="none" stroke="#000" stroke-width="1.1" stroke-linejoin="round"/><path d="M461.2 424.2h7M464.7 420.7v7" stroke="#000" stroke-width="1" fill="none"/><path d="M440.9 401.2V419.9M437.4 401.2h7M437.4 419.9h7" stroke="#000" stroke-width="1.3" fill="none"/><path d="M431.2 410.4H449.4" stroke="#000" stroke-width="1.3" fill="none"/><path d="M431.2 406.9v7M449.4 406.9v7" stroke="#000" stroke-width="1.1" fill="none"/><rect x="436.9" y="406.4" width="8" height="8" fill="#000"/>
</g>
<path d="M338.6 550.5v-4.6M338.6 297.9v4.6M338.6 297.9h4.6M590.8 297.9h-4.6M370.12 550.5v-4.6M370.12 297.9v4.6M338.6 329.47h4.6M590.8 329.47h-4.6M401.65 550.5v-4.6M401.65 297.9v4.6M338.6 361.05h4.6M590.8 361.05h-4.6M433.18 550.5v-4.6M433.18 297.9v4.6M338.6 392.62h4.6M590.8 392.62h-4.6M464.7 550.5v-4.6M464.7 297.9v4.6M338.6 424.2h4.6M590.8 424.2h-4.6M496.22 550.5v-4.6M496.22 297.9v4.6M338.6 455.77h4.6M590.8 455.77h-4.6M527.75 550.5v-4.6M527.75 297.9v4.6M338.6 487.35h4.6M590.8 487.35h-4.6M559.27 550.5v-4.6M559.27 297.9v4.6M338.6 518.92h4.6M590.8 518.92h-4.6M590.8 550.5v-4.6M590.8 297.9v4.6M338.6 550.5h4.6M590.8 550.5h-4.6" stroke="#000" stroke-width="1.0" fill="none"/>
<rect x="338.6" y="297.9" width="252.2" height="252.6" fill="none" stroke="#000" stroke-width="1.6"/>
<g font-size="13.4"><text transform="translate(338.6 564.8) scale(0.93 1)" text-anchor="middle">2.0</text><text transform="translate(334.8 301.6) scale(0.93 1)" text-anchor="end">2.0</text><text transform="translate(370.12 564.8) scale(0.93 1)" text-anchor="middle">1.5</text><text transform="translate(334.8 333.17) scale(0.93 1)" text-anchor="end">1.5</text><text transform="translate(401.65 564.8) scale(0.93 1)" text-anchor="middle">1.0</text><text transform="translate(334.8 364.75) scale(0.93 1)" text-anchor="end">1.0</text><text transform="translate(433.18 564.8) scale(0.93 1)" text-anchor="middle">0.5</text><text transform="translate(334.8 396.32) scale(0.93 1)" text-anchor="end">0.5</text><text transform="translate(464.7 564.8) scale(0.93 1)" text-anchor="middle">0.0</text><text transform="translate(334.8 427.9) scale(0.93 1)" text-anchor="end">0.0</text><text transform="translate(496.22 564.8) scale(0.93 1)" text-anchor="middle">−0.5</text><text transform="translate(334.8 459.47) scale(0.93 1)" text-anchor="end">−0.5</text><text transform="translate(527.75 564.8) scale(0.93 1)" text-anchor="middle">−1.0</text><text transform="translate(334.8 491.05) scale(0.93 1)" text-anchor="end">−1.0</text><text transform="translate(559.27 564.8) scale(0.93 1)" text-anchor="middle">−1.5</text><text transform="translate(334.8 522.62) scale(0.93 1)" text-anchor="end">−1.5</text><text transform="translate(590.8 564.8) scale(0.93 1)" text-anchor="middle">−2.0</text><text transform="translate(334.8 554.2) scale(0.93 1)" text-anchor="end">−2.0</text></g>
<text x="520.4" y="319.9" font-size="12.5">2012.534</text>
<clipPath id="c4"><rect x="28" y="589.4" width="252" height="252.6"/></clipPath>
<g clip-path="url(#c4)">
<ellipse cx="0" cy="0" rx="50.3" ry="14.2" transform="translate(56.4 784.1) rotate(86.4)" fill="#d3d3d3" stroke="#1a1a1a" stroke-width="1"/><circle cx="138.8" cy="734.7" r="17" fill="none" stroke="#008000" stroke-width="2.8"/><circle cx="182.3" cy="679.9" r="22.5" fill="none" stroke="#ff0000" stroke-width="2.8"/><path d="M211.83 672.5 211.67 674 211.49 675.49 211.29 676.97 211.06 678.45 210.81 679.92 210.55 681.39 210.26 682.87 209.95 684.34 209.61 685.82 209.25 687.31 208.87 688.8 208.45 690.31 208.01 691.83 207.54 693.36 207.03 694.91 206.5 696.48 205.94 698.07 205.34 699.69 204.7 701.34 204.01 703.01 203.27 704.7 202.46 706.41 201.59 708.13 200.65 709.87 199.67 711.66 198.62 713.49 197.48 715.33 196.25 717.15 194.89 718.9 193.39 720.51 191.73 721.92 189.95 723.12 188.07 724.14 186.11 725.01 184.09 725.73 182.02 726.29 179.91 726.63 177.76 726.67 175.62 726.43 173.5 725.97 171.42 725.35 169.41 724.53 167.46 723.5 165.62 722.25 163.9 720.79 162.3 719.13 160.85 717.35 159.53 715.5 158.33 713.61 157.25 711.73 156.27 709.88 155.38 708.06 154.57 706.3 153.84 704.58 153.18 702.92 152.58 701.29 152.04 699.72 151.56 698.18 151.14 696.68 150.77 695.23 150.44 693.81 150.15 692.44 149.89 691.11 149.65 689.83 149.44 688.57 149.25 687.36 149.08 686.17 148.93 685.02 148.79 683.89 148.67 682.79 148.56 681.7 148.46 680.64 148.37 679.59 148.29 678.55 148.23 677.53 148.17 676.51 148.13 675.5 148.09 674.5 148.07 673.5 148.06 672.5 148.05 671.5 148.06 670.5 148.07 669.49 148.1 668.48 148.14 667.45 148.18 666.42 148.24 665.38 148.31 664.32 148.4 663.24 148.5 662.14 148.61 661.02 148.73 659.88 148.87 658.71 149.03 657.5 149.21 656.27 149.41 654.99 149.63 653.68 149.88 652.32 150.15 650.92 150.46 649.46 150.81 647.96 151.2 646.39 151.65 644.78 152.14 643.11 152.7 641.37 153.31 639.56 154 637.68 154.76 635.72 155.6 633.68 156.54 631.56 157.59 629.38 158.77 627.17 160.1 624.99 161.59 622.91 163.26 621.04 165.11 619.53 167.1 618.44 169.2 617.83 171.35 617.7 173.5 618.16 175.61 618.92 177.65 619.74 179.64 620.62 181.56 621.6 183.42 622.6 185.25 623.55 187.07 624.39 188.88 625.18 190.68 625.93 192.48 626.68 194.27 627.44 196.06 628.23 197.86 629.01 199.68 629.78 201.45 630.67 203.09 631.77 204.63 633.01 206.09 634.34 207.38 635.85 208.46 637.54 209.31 639.4 209.98 641.34 210.5 643.33 210.91 645.32 211.24 647.28 211.5 649.21 211.7 651.1 211.86 652.95 211.98 654.76 212.07 656.52 212.14 658.24 212.19 659.93 212.22 661.58 212.23 663.2 212.22 664.8 212.19 666.37 212.14 667.93 212.06 669.47 211.96 670.99ZM205.81 672.5 205.7 673.77 205.56 675.02 205.41 676.28 205.23 677.53 205.04 678.77 204.83 680.02 204.59 681.27 204.34 682.52 204.07 683.78 203.77 685.04 203.45 686.31 203.1 687.58 202.73 688.87 202.33 690.17 201.91 691.48 201.45 692.81 200.97 694.16 200.46 695.53 199.92 696.92 199.33 698.33 198.7 699.76 198.02 701.21 197.28 702.66 196.49 704.14 195.65 705.65 194.76 707.19 193.79 708.73 192.74 710.27 191.59 711.74 190.32 713.1 188.92 714.3 187.42 715.33 185.83 716.23 184.18 716.99 182.48 717.62 180.73 718.13 178.94 718.45 177.12 718.52 175.3 718.35 173.5 717.99 171.73 717.49 170.01 716.82 168.36 715.97 166.78 714.93 165.3 713.72 163.93 712.35 162.68 710.88 161.53 709.33 160.5 707.74 159.56 706.15 158.71 704.58 157.94 703.03 157.24 701.53 156.61 700.06 156.05 698.62 155.54 697.23 155.08 695.87 154.67 694.55 154.31 693.26 154 692 153.72 690.78 153.48 689.6 153.26 688.46 153.07 687.35 152.89 686.27 152.74 685.22 152.6 684.2 152.48 683.21 152.37 682.24 152.26 681.3 152.18 680.37 152.1 679.45 152.03 678.56 151.97 677.67 151.92 676.79 151.88 675.92 151.84 675.06 151.82 674.21 151.8 673.35 151.8 672.5 151.79 671.65 151.8 670.79 151.82 669.93 151.84 669.07 151.87 668.2 151.92 667.32 151.97 666.43 152.03 665.52 152.1 664.6 152.18 663.67 152.27 662.71 152.38 661.74 152.49 660.73 152.62 659.71 152.77 658.65 152.94 657.56 153.12 656.43 153.32 655.27 153.55 654.06 153.81 652.81 154.1 651.52 154.43 650.17 154.8 648.78 155.22 647.34 155.68 645.84 156.21 644.28 156.8 642.67 157.45 641 158.18 639.28 159 637.49 159.91 635.68 160.94 633.84 162.09 632.03 163.37 630.32 164.8 628.78 166.38 627.54 168.07 626.64 169.85 626.15 171.68 626.06 173.5 626.44 175.28 627.08 177.02 627.78 178.7 628.53 180.33 629.37 181.91 630.23 183.45 631.05 184.98 631.8 186.49 632.51 188 633.2 189.5 633.88 190.98 634.58 192.46 635.3 193.93 636.01 195.42 636.73 196.87 637.52 198.21 638.49 199.47 639.55 200.66 640.7 201.72 641.97 202.62 643.38 203.33 644.93 203.9 646.54 204.35 648.18 204.71 649.82 205.01 651.45 205.25 653.04 205.45 654.61 205.6 656.14 205.73 657.64 205.83 659.11 205.91 660.55 205.97 661.95 206.01 663.33 206.04 664.69 206.05 666.03 206.04 667.35 206.02 668.65 205.97 669.94 205.9 671.23ZM200.28 672.5 200.2 673.55 200.11 674.59 200 675.64 199.87 676.68 199.73 677.72 199.56 678.76 199.38 679.8 199.18 680.85 198.97 681.9 198.73 682.95 198.47 684.01 198.18 685.08 197.88 686.15 197.54 687.23 197.19 688.33 196.81 689.44 196.41 690.56 195.98 691.7 195.52 692.86 195.03 694.03 194.5 695.22 193.93 696.42 193.31 697.63 192.65 698.86 191.95 700.12 191.2 701.39 190.4 702.67 189.52 703.93 188.55 705.15 187.49 706.28 186.33 707.29 185.09 708.17 183.78 708.94 182.41 709.61 180.99 710.17 179.54 710.63 178.05 710.92 176.53 711.02 175.01 710.92 173.5 710.65 172.02 710.26 170.57 709.72 169.18 709.03 167.85 708.2 166.59 707.22 165.43 706.12 164.36 704.92 163.38 703.65 162.49 702.34 161.69 701.02 160.96 699.71 160.3 698.41 159.7 697.14 159.17 695.89 158.69 694.67 158.25 693.48 157.87 692.33 157.53 691.2 157.23 690.1 156.97 689.03 156.74 687.99 156.54 686.99 156.36 686.01 156.2 685.07 156.07 684.15 155.94 683.26 155.84 682.39 155.74 681.55 155.65 680.73 155.57 679.93 155.51 679.14 155.45 678.37 155.4 677.61 155.35 676.86 155.32 676.12 155.29 675.38 155.26 674.66 155.25 673.94 155.24 673.22 155.23 672.5 155.24 671.78 155.25 671.06 155.26 670.34 155.29 669.62 155.31 668.88 155.35 668.14 155.39 667.39 155.44 666.63 155.5 665.86 155.57 665.07 155.64 664.27 155.73 663.45 155.82 662.6 155.93 661.73 156.05 660.84 156.18 659.92 156.33 658.96 156.5 657.98 156.68 656.95 156.89 655.89 157.13 654.79 157.4 653.64 157.7 652.46 158.04 651.23 158.43 649.95 158.87 648.63 159.37 647.26 159.93 645.86 160.56 644.43 161.26 642.96 162.05 641.47 162.93 639.97 163.91 638.51 165.01 637.13 166.22 635.9 167.55 634.9 168.97 634.19 170.45 633.81 171.98 633.76 173.5 634.07 174.99 634.59 176.44 635.17 177.84 635.81 179.2 636.52 180.51 637.25 181.79 637.96 183.06 638.62 184.3 639.25 185.53 639.88 186.75 640.51 187.95 641.15 189.14 641.8 190.33 642.46 191.51 643.11 192.66 643.83 193.72 644.66 194.73 645.57 195.67 646.54 196.52 647.6 197.24 648.76 197.82 650.02 198.3 651.32 198.69 652.64 199.01 653.96 199.28 655.27 199.51 656.56 199.69 657.83 199.85 659.08 199.97 660.3 200.08 661.49 200.17 662.66 200.24 663.81 200.3 664.94 200.34 666.06 200.37 667.15 200.39 668.24 200.39 669.32 200.37 670.39 200.33 671.45ZM194.98 672.5 194.94 673.34 194.89 674.18 194.83 675.02 194.74 675.86 194.64 676.71 194.53 677.55 194.4 678.39 194.25 679.24 194.09 680.1 193.9 680.95 193.7 681.81 193.48 682.68 193.23 683.55 192.96 684.43 192.68 685.31 192.37 686.21 192.04 687.12 191.69 688.04 191.32 688.97 190.92 689.92 190.49 690.87 190.02 691.84 189.52 692.82 188.99 693.82 188.42 694.83 187.81 695.85 187.15 696.87 186.43 697.88 185.65 698.85 184.79 699.76 183.86 700.58 182.86 701.32 181.81 701.97 180.71 702.55 179.57 703.04 178.4 703.45 177.2 703.72 175.97 703.85 174.73 703.82 173.5 703.64 172.29 703.34 171.11 702.93 169.96 702.4 168.87 701.76 167.83 701.01 166.86 700.15 165.96 699.22 165.14 698.22 164.4 697.18 163.72 696.11 163.11 695.05 162.55 693.98 162.06 692.93 161.61 691.9 161.21 690.89 160.85 689.9 160.54 688.94 160.26 688 160.02 687.09 159.81 686.19 159.62 685.33 159.46 684.49 159.33 683.67 159.21 682.88 159.1 682.12 159.01 681.38 158.93 680.66 158.86 679.96 158.8 679.28 158.74 678.61 158.69 677.96 158.65 677.32 158.62 676.7 158.59 676.08 158.57 675.47 158.55 674.87 158.54 674.27 158.53 673.68 158.52 673.09 158.53 672.5 158.53 671.91 158.54 671.32 158.56 670.73 158.58 670.14 158.6 669.54 158.63 668.93 158.67 668.32 158.71 667.69 158.76 667.06 158.81 666.42 158.87 665.76 158.94 665.08 159.01 664.38 159.09 663.67 159.18 662.93 159.29 662.17 159.4 661.39 159.53 660.57 159.68 659.72 159.84 658.84 160.03 657.92 160.23 656.97 160.47 655.98 160.75 654.95 161.06 653.88 161.42 652.78 161.83 651.66 162.3 650.51 162.83 649.35 163.43 648.18 164.09 647 164.84 645.84 165.66 644.71 166.57 643.65 167.58 642.72 168.66 641.95 169.82 641.41 171.03 641.13 172.27 641.11 173.5 641.36 174.71 641.77 175.88 642.25 177.02 642.77 178.12 643.36 179.18 643.96 180.21 644.56 181.22 645.14 182.21 645.71 183.17 646.28 184.13 646.85 185.06 647.43 185.97 648.02 186.87 648.62 187.77 649.22 188.63 649.86 189.43 650.57 190.19 651.33 190.9 652.13 191.54 652.98 192.1 653.9 192.56 654.88 192.95 655.89 193.28 656.9 193.56 657.92 193.8 658.94 194.01 659.93 194.19 660.91 194.34 661.88 194.47 662.83 194.58 663.77 194.68 664.69 194.77 665.59 194.84 666.48 194.9 667.36 194.95 668.23 194.98 669.1 195 669.96 195.01 670.81 195 671.66ZM187.76 672.5 187.78 673.06 187.78 673.62 187.77 674.19 187.75 674.76 187.71 675.33 187.67 675.9 187.6 676.48 187.52 677.06 187.43 677.64 187.33 678.23 187.2 678.82 187.06 679.41 186.9 680 186.72 680.6 186.52 681.2 186.31 681.81 186.09 682.42 185.84 683.04 185.58 683.67 185.31 684.31 185.01 684.95 184.69 685.6 184.35 686.27 183.99 686.94 183.6 687.61 183.17 688.29 182.72 688.96 182.22 689.62 181.68 690.25 181.1 690.86 180.49 691.44 179.83 691.98 179.13 692.47 178.4 692.92 177.64 693.32 176.85 693.66 176.03 693.91 175.2 694.07 174.35 694.13 173.5 694.06 172.66 693.91 171.83 693.67 171.03 693.36 170.26 692.98 169.52 692.53 168.81 692.02 168.16 691.45 167.55 690.82 166.99 690.13 166.49 689.42 166.04 688.69 165.63 687.95 165.26 687.21 164.94 686.47 164.65 685.74 164.4 685.02 164.18 684.32 163.99 683.64 163.82 682.97 163.68 682.32 163.56 681.69 163.46 681.08 163.37 680.48 163.3 679.91 163.24 679.35 163.19 678.82 163.15 678.3 163.11 677.79 163.08 677.3 163.06 676.83 163.04 676.36 163.02 675.9 163.01 675.46 163 675.02 163 674.59 163 674.16 163 673.74 163 673.33 163.01 672.91 163.01 672.5 163.02 672.09 163.04 671.68 163.05 671.26 163.07 670.85 163.09 670.43 163.11 670.01 163.14 669.58 163.16 669.14 163.2 668.7 163.23 668.25 163.27 667.78 163.31 667.31 163.35 666.82 163.41 666.31 163.46 665.79 163.52 665.25 163.59 664.69 163.67 664.11 163.76 663.49 163.86 662.86 163.97 662.19 164.1 661.5 164.26 660.78 164.44 660.02 164.64 659.24 164.89 658.45 165.18 657.65 165.53 656.85 165.93 656.07 166.38 655.3 166.88 654.55 167.44 653.84 168.05 653.16 168.71 652.54 169.42 652 170.18 651.56 170.99 651.25 171.82 651.11 172.66 651.15 173.5 651.3 174.32 651.56 175.12 651.89 175.89 652.27 176.64 652.68 177.36 653.12 178.05 653.57 178.71 654.03 179.35 654.51 179.96 654.99 180.55 655.49 181.11 656 181.65 656.51 182.17 657.02 182.66 657.55 183.13 658.09 183.58 658.63 184 659.18 184.39 659.75 184.75 660.33 185.08 660.92 185.38 661.52 185.65 662.12 185.9 662.72 186.13 663.33 186.33 663.93 186.51 664.53 186.68 665.12 186.83 665.71 186.96 666.29 187.09 666.87 187.2 667.45 187.3 668.02 187.39 668.58 187.47 669.15 187.54 669.71 187.61 670.27 187.66 670.82 187.7 671.38 187.74 671.94Z" fill="none" stroke="#000" stroke-width="1.1" stroke-linejoin="round"/><path d="M176.8 672.5 176.79 672.89 176.77 673.28 176.74 673.67 176.69 674.05 176.62 674.43 176.55 674.8 176.46 675.15 176.36 675.5 176.24 675.83 176.12 676.15 175.98 676.46 175.83 676.74 175.68 677.01 175.51 677.26 175.33 677.49 175.15 677.7 174.96 677.88 174.76 678.04 174.56 678.18 174.35 678.3 174.14 678.38 173.93 678.45 173.72 678.49 173.5 678.5 173.28 678.49 173.07 678.45 172.86 678.38 172.65 678.3 172.44 678.18 172.24 678.04 172.04 677.88 171.85 677.7 171.67 677.49 171.49 677.26 171.32 677.01 171.17 676.74 171.02 676.46 170.88 676.15 170.76 675.83 170.64 675.5 170.54 675.15 170.45 674.8 170.38 674.43 170.31 674.05 170.26 673.67 170.23 673.28 170.21 672.89 170.2 672.5 170.21 672.11 170.23 671.72 170.26 671.33 170.31 670.95 170.38 670.57 170.45 670.2 170.54 669.85 170.64 669.5 170.76 669.17 170.88 668.85 171.02 668.54 171.17 668.26 171.32 667.99 171.49 667.74 171.67 667.51 171.85 667.3 172.04 667.12 172.24 666.96 172.44 666.82 172.65 666.7 172.86 666.62 173.07 666.55 173.28 666.51 173.5 666.5 173.72 666.51 173.93 666.55 174.14 666.62 174.35 666.7 174.56 666.82 174.76 666.96 174.96 667.12 175.15 667.3 175.33 667.51 175.51 667.74 175.68 667.99 175.83 668.26 175.98 668.54 176.12 668.85 176.24 669.17 176.36 669.5 176.46 669.85 176.55 670.2 176.62 670.57 176.69 670.95 176.74 671.33 176.77 671.72 176.79 672.11Z" fill="none" stroke="#000" stroke-width="1.1" stroke-linejoin="round"/><path d="M150.6 715.7h7M154.1 712.2v7" stroke="#000" stroke-width="1" fill="none"/><path d="M173.3 663.3V682.5M169.8 663.3h7M169.8 682.5h7" stroke="#000" stroke-width="1.3" fill="none"/><path d="M163.6 672.5H183.2" stroke="#000" stroke-width="1.3" fill="none"/><path d="M163.6 669v7M183.2 669v7" stroke="#000" stroke-width="1.1" fill="none"/><rect x="169.3" y="668.5" width="8" height="8" fill="#000"/>
</g>
<path d="M28 842v-4.6M28 589.4v4.6M28 589.4h4.6M280 589.4h-4.6M59.5 842v-4.6M59.5 589.4v4.6M28 620.98h4.6M280 620.98h-4.6M91 842v-4.6M91 589.4v4.6M28 652.55h4.6M280 652.55h-4.6M122.5 842v-4.6M122.5 589.4v4.6M28 684.12h4.6M280 684.12h-4.6M154 842v-4.6M154 589.4v4.6M28 715.7h4.6M280 715.7h-4.6M185.5 842v-4.6M185.5 589.4v4.6M28 747.27h4.6M280 747.27h-4.6M217 842v-4.6M217 589.4v4.6M28 778.85h4.6M280 778.85h-4.6M248.5 842v-4.6M248.5 589.4v4.6M28 810.42h4.6M280 810.42h-4.6M280 842v-4.6M280 589.4v4.6M28 842h4.6M280 842h-4.6" stroke="#000" stroke-width="1.0" fill="none"/>
<rect x="28" y="589.4" width="252" height="252.6" fill="none" stroke="#000" stroke-width="1.6"/>
<g font-size="13.4"><text transform="translate(28 856.3) scale(0.93 1)" text-anchor="middle">2.0</text><text transform="translate(24.2 593.1) scale(0.93 1)" text-anchor="end">2.0</text><text transform="translate(59.5 856.3) scale(0.93 1)" text-anchor="middle">1.5</text><text transform="translate(24.2 624.68) scale(0.93 1)" text-anchor="end">1.5</text><text transform="translate(91 856.3) scale(0.93 1)" text-anchor="middle">1.0</text><text transform="translate(24.2 656.25) scale(0.93 1)" text-anchor="end">1.0</text><text transform="translate(122.5 856.3) scale(0.93 1)" text-anchor="middle">0.5</text><text transform="translate(24.2 687.83) scale(0.93 1)" text-anchor="end">0.5</text><text transform="translate(154 856.3) scale(0.93 1)" text-anchor="middle">0.0</text><text transform="translate(24.2 719.4) scale(0.93 1)" text-anchor="end">0.0</text><text transform="translate(185.5 856.3) scale(0.93 1)" text-anchor="middle">−0.5</text><text transform="translate(24.2 750.98) scale(0.93 1)" text-anchor="end">−0.5</text><text transform="translate(217 856.3) scale(0.93 1)" text-anchor="middle">−1.0</text><text transform="translate(24.2 782.55) scale(0.93 1)" text-anchor="end">−1.0</text><text transform="translate(248.5 856.3) scale(0.93 1)" text-anchor="middle">−1.5</text><text transform="translate(24.2 814.12) scale(0.93 1)" text-anchor="end">−1.5</text><text transform="translate(280 856.3) scale(0.93 1)" text-anchor="middle">−2.0</text><text transform="translate(24.2 845.7) scale(0.93 1)" text-anchor="end">−2.0</text></g>
<text x="209.8" y="611.4" font-size="12.5">2012.564</text>
<clipPath id="c5"><rect x="338.6" y="589.4" width="252.2" height="252.6"/></clipPath>
<g clip-path="url(#c5)">
<ellipse cx="0" cy="0" rx="46.2" ry="13" transform="translate(368.3 784.8) rotate(102.7)" fill="#d3d3d3" stroke="#1a1a1a" stroke-width="1"/><circle cx="460.2" cy="691.4" r="17" fill="none" stroke="#008000" stroke-width="2.8"/><circle cx="472.8" cy="760.8" r="22.5" fill="none" stroke="#ff0000" stroke-width="2.8"/><path d="M494.8 710.5 495.85 710.52 496.81 710.6 497.71 710.74 498.55 710.94 499.36 711.2 500.14 711.52 500.92 711.89 501.7 712.3 502.48 712.77 503.24 713.32 503.98 713.92 504.7 714.57 505.41 715.27 506.11 715.99 506.81 716.74 507.5 717.5 508.2 718.28 508.9 719.1 509.59 719.95 510.27 720.83 510.94 721.72 511.59 722.64 512.21 723.56 512.8 724.5 513.35 725.45 513.88 726.41 514.38 727.38 514.86 728.38 515.32 729.38 515.76 730.41 516.19 731.45 516.6 732.5 517 733.56 517.4 734.63 517.78 735.71 518.14 736.8 518.48 737.92 518.79 739.07 519.07 740.26 519.3 741.5 519.5 742.78 519.66 744.08 519.8 745.42 519.91 746.79 519.98 748.2 520.02 749.65 520.03 751.15 520 752.7 519.94 754.32 519.83 756.02 519.69 757.78 519.52 759.58 519.32 761.39 519.1 763.2 518.86 764.97 518.6 766.7 518.33 768.41 518.04 770.13 517.73 771.84 517.4 773.54 517.04 775.2 516.66 776.81 516.25 778.35 515.8 779.8 515.33 781.18 514.84 782.52 514.33 783.81 513.79 785.03 513.22 786.19 512.6 787.27 511.93 788.28 511.2 789.2 510.4 790.05 509.51 790.83 508.56 791.54 507.57 792.18 506.57 792.73 505.58 793.18 504.61 793.54 503.7 793.8 502.83 793.89 501.98 793.81 501.15 793.59 500.34 793.3 499.53 792.98 498.72 792.69 497.91 792.48 497.1 792.4 496.28 792.44 495.45 792.54 494.62 792.7 493.79 792.89 492.97 793.12 492.16 793.35 491.37 793.58 490.6 793.8 489.86 794 489.15 794.2 488.45 794.39 487.77 794.6 487.09 794.83 486.41 795.08 485.71 795.37 485 795.7 484.27 796.1 483.55 796.57 482.81 797.08 482.08 797.62 481.33 798.15 480.57 798.66 479.79 799.12 479 799.5 478.18 799.84 477.32 800.18 476.44 800.49 475.55 800.76 474.67 800.98 473.81 801.12 472.98 801.16 472.2 801.1 471.46 800.93 470.75 800.66 470.06 800.3 469.39 799.87 468.76 799.36 468.14 798.8 467.56 798.17 467 797.5 466.47 796.77 465.98 795.98 465.52 795.13 465.08 794.21 464.66 793.24 464.26 792.21 463.88 791.13 463.5 790 463.13 788.81 462.77 787.54 462.43 786.22 462.11 784.84 461.8 783.43 461.51 781.97 461.24 780.49 461 779 460.78 777.45 460.58 775.81 460.39 774.11 460.23 772.4 460.09 770.7 459.97 769.04 459.87 767.47 459.8 766 459.76 764.64 459.74 763.35 459.76 762.13 459.79 760.96 459.84 759.83 459.9 758.74 459.95 757.66 460 756.6 460.03 755.59 460.05 754.66 460.07 753.78 460.09 752.92 460.14 752.04 460.21 751.12 460.33 750.11 460.5 749 460.72 747.76 460.97 746.42 461.26 745 461.59 743.53 461.94 742.04 462.33 740.56 462.75 739.1 463.2 737.7 463.68 736.33 464.18 734.96 464.71 733.6 465.28 732.26 465.88 730.93 466.52 729.64 467.19 728.4 467.9 727.2 468.65 726.05 469.43 724.95 470.26 723.88 471.11 722.84 472.01 721.84 472.93 720.87 473.9 719.92 474.9 719 475.94 718.08 477.03 717.17 478.16 716.28 479.32 715.42 480.52 714.61 481.73 713.86 482.96 713.18 484.2 712.6 485.49 712.11 486.85 711.68 488.24 711.33 489.65 711.04 491.04 710.81 492.38 710.65 493.64 710.55ZM493.8 716.4 494.61 716.56 495.3 716.78 495.91 717.07 496.48 717.46 497.04 717.93 497.62 718.51 498.26 719.19 499 720 499.84 720.97 500.76 722.1 501.73 723.37 502.73 724.73 503.73 726.14 504.7 727.57 505.64 728.97 506.5 730.3 507.31 731.59 508.1 732.88 508.86 734.17 509.59 735.46 510.29 736.74 510.94 738.03 511.55 739.32 512.1 740.6 512.6 741.87 513.06 743.13 513.48 744.38 513.85 745.64 514.18 746.9 514.46 748.18 514.7 749.47 514.9 750.8 515.05 752.16 515.14 753.55 515.19 754.96 515.19 756.39 515.16 757.82 515.1 759.26 515.01 760.68 514.9 762.1 514.77 763.52 514.62 764.97 514.45 766.43 514.24 767.88 513.99 769.31 513.71 770.7 513.38 772.03 513 773.3 512.57 774.52 512.09 775.73 511.56 776.9 510.99 778.02 510.39 779.08 509.75 780.06 509.09 780.94 508.4 781.7 507.68 782.34 506.91 782.86 506.11 783.28 505.28 783.63 504.43 783.9 503.56 784.13 502.68 784.32 501.8 784.5 500.89 784.61 499.94 784.63 498.97 784.58 497.99 784.5 497.01 784.42 496.06 784.37 495.15 784.39 494.3 784.5 493.5 784.72 492.72 785.01 491.98 785.37 491.26 785.76 490.58 786.16 489.92 786.57 489.3 786.95 488.7 787.3 488.16 787.61 487.67 787.9 487.23 788.17 486.81 788.44 486.4 788.72 485.97 788.99 485.51 789.29 485 789.6 484.44 789.94 483.86 790.32 483.26 790.71 482.63 791.11 481.99 791.5 481.34 791.87 480.67 792.21 480 792.5 479.31 792.77 478.58 793.06 477.84 793.33 477.08 793.57 476.33 793.76 475.59 793.87 474.88 793.89 474.2 793.8 473.55 793.6 472.92 793.33 472.3 792.98 471.71 792.54 471.13 792.03 470.56 791.44 470.02 790.76 469.5 790 468.99 789.14 468.5 788.16 468.02 787.09 467.57 785.95 467.14 784.75 466.73 783.51 466.35 782.26 466 781 465.68 779.74 465.39 778.45 465.13 777.13 464.89 775.77 464.68 774.39 464.5 772.97 464.34 771.5 464.2 770 464.09 768.42 464.01 766.75 463.96 765.03 463.94 763.28 463.93 761.53 463.94 759.81 463.97 758.16 464 756.6 464.04 755.13 464.1 753.7 464.18 752.32 464.27 750.98 464.38 749.68 464.5 748.42 464.64 747.2 464.8 746 464.97 744.86 465.14 743.77 465.33 742.74 465.53 741.73 465.76 740.74 466.03 739.75 466.34 738.74 466.7 737.7 467.11 736.62 467.57 735.51 468.06 734.39 468.59 733.27 469.16 732.16 469.75 731.06 470.36 730.01 471 729 471.65 728.02 472.33 727.06 473.04 726.12 473.77 725.21 474.53 724.33 475.32 723.5 476.14 722.72 477 722 477.9 721.34 478.84 720.73 479.82 720.17 480.82 719.66 481.85 719.19 482.9 718.76 483.95 718.36 485 718 486.09 717.65 487.23 717.31 488.4 717 489.58 716.72 490.73 716.51 491.83 716.38 492.87 716.33ZM491.8 722.9 492.41 723.15 492.99 723.45 493.54 723.81 494.07 724.22 494.59 724.7 495.11 725.24 495.65 725.84 496.2 726.5 496.78 727.23 497.38 728.04 497.98 728.9 498.59 729.83 499.2 730.81 499.79 731.84 500.36 732.9 500.9 734 501.42 735.15 501.92 736.38 502.4 737.66 502.87 738.98 503.32 740.31 503.76 741.66 504.19 742.99 504.6 744.3 505.01 745.61 505.43 746.96 505.84 748.33 506.23 749.69 506.59 751.02 506.92 752.29 507.19 753.49 507.4 754.6 507.55 755.59 507.64 756.49 507.68 757.31 507.69 758.08 507.65 758.82 507.59 759.56 507.51 760.31 507.4 761.1 507.28 761.94 507.14 762.81 506.98 763.7 506.79 764.58 506.57 765.43 506.3 766.25 505.98 767.01 505.6 767.7 505.16 768.31 504.67 768.85 504.13 769.34 503.55 769.79 502.93 770.21 502.28 770.61 501.6 771 500.9 771.4 500.16 771.79 499.36 772.14 498.52 772.48 497.66 772.8 496.79 773.12 495.92 773.46 495.09 773.81 494.3 774.2 493.54 774.63 492.79 775.08 492.04 775.56 491.32 776.05 490.62 776.54 489.94 777.02 489.3 777.47 488.7 777.9 488.15 778.29 487.65 778.64 487.19 778.97 486.75 779.29 486.33 779.62 485.9 779.95 485.46 780.31 485 780.7 484.52 781.14 484.02 781.61 483.53 782.1 483.02 782.61 482.52 783.12 482.01 783.61 481.51 784.08 481 784.5 480.49 784.92 479.99 785.38 479.48 785.84 478.98 786.26 478.46 786.63 477.95 786.91 477.43 787.08 476.9 787.1 476.35 786.98 475.78 786.75 475.2 786.42 474.62 785.99 474.05 785.48 473.49 784.89 472.98 784.23 472.5 783.5 472.06 782.68 471.65 781.75 471.26 780.74 470.9 779.65 470.56 778.51 470.25 777.35 469.96 776.17 469.7 775 469.46 773.81 469.26 772.57 469.08 771.29 468.92 769.99 468.78 768.7 468.67 767.42 468.58 766.18 468.5 765 468.44 763.88 468.41 762.82 468.41 761.79 468.42 760.78 468.45 759.77 468.49 758.75 468.54 757.7 468.6 756.6 468.67 755.46 468.75 754.28 468.83 753.07 468.94 751.86 469.05 750.63 469.19 749.41 469.33 748.19 469.5 747 469.68 745.81 469.86 744.62 470.06 743.42 470.28 742.23 470.52 741.06 470.78 739.91 471.07 738.78 471.4 737.7 471.76 736.64 472.15 735.59 472.56 734.55 473.01 733.55 473.47 732.58 473.96 731.66 474.47 730.8 475 730 475.55 729.27 476.13 728.6 476.73 727.99 477.35 727.42 477.99 726.9 478.65 726.41 479.32 725.94 480 725.5 480.7 725.08 481.43 724.68 482.19 724.31 482.95 723.98 483.72 723.67 484.49 723.41 485.25 723.18 486 723 486.74 722.85 487.5 722.72 488.25 722.62 489 722.57 489.74 722.56 490.45 722.61 491.14 722.72ZM489.9 729.4 490.57 729.79 491.28 730.29 492 730.9 492.73 731.59 493.44 732.37 494.12 733.2 494.75 734.08 495.3 735 495.79 735.97 496.23 737.02 496.62 738.13 496.98 739.3 497.3 740.51 497.59 741.75 497.86 743.02 498.1 744.3 498.32 745.63 498.5 747.03 498.66 748.48 498.78 749.96 498.88 751.42 498.95 752.85 498.99 754.22 499 755.5 498.99 756.7 498.97 757.84 498.92 758.93 498.84 759.99 498.73 761 498.57 761.99 498.36 762.96 498.1 763.9 497.78 764.82 497.4 765.72 496.97 766.59 496.49 767.44 495.98 768.25 495.44 769.03 494.88 769.78 494.3 770.5 493.67 771.18 492.98 771.83 492.25 772.45 491.49 773.04 490.74 773.59 490.01 774.12 489.32 774.62 488.7 775.1 488.16 775.54 487.68 775.95 487.25 776.32 486.84 776.66 486.44 776.99 486.01 777.3 485.54 777.6 485 777.9 484.38 778.23 483.7 778.59 482.98 778.97 482.24 779.32 481.5 779.62 480.78 779.83 480.1 779.94 479.5 779.9 478.96 779.72 478.46 779.44 478 779.05 477.56 778.57 477.15 778.02 476.76 777.4 476.38 776.72 476 776 475.63 775.22 475.26 774.37 474.91 773.45 474.57 772.47 474.25 771.43 473.97 770.34 473.71 769.19 473.5 768 473.32 766.73 473.18 765.35 473.07 763.89 472.99 762.4 472.93 760.89 472.9 759.4 472.89 757.96 472.9 756.6 472.93 755.31 472.98 754.07 473.04 752.85 473.14 751.67 473.26 750.5 473.41 749.34 473.59 748.17 473.8 747 474.05 745.8 474.35 744.56 474.68 743.31 475.04 742.07 475.42 740.87 475.81 739.73 476.21 738.66 476.6 737.7 476.99 736.84 477.37 736.05 477.76 735.34 478.16 734.69 478.58 734.09 479.02 733.53 479.49 733 480 732.5 480.55 732.03 481.14 731.6 481.76 731.2 482.41 730.85 483.06 730.53 483.72 730.25 484.37 730.01 485 729.8 485.61 729.6 486.22 729.4 486.82 729.22 487.43 729.08 488.03 729.01 488.64 729.02 489.26 729.15ZM487.9 736.8 488.24 736.84 488.51 736.94 488.72 737.09 488.9 737.29 489.07 737.56 489.24 737.88 489.44 738.26 489.7 738.7 490.01 739.2 490.35 739.75 490.72 740.37 491.1 741.04 491.48 741.77 491.85 742.55 492.19 743.4 492.5 744.3 492.79 745.29 493.08 746.38 493.37 747.55 493.63 748.77 493.87 750.01 494.06 751.24 494.21 752.45 494.3 753.6 494.33 754.73 494.31 755.87 494.24 757.02 494.14 758.14 494 759.23 493.82 760.27 493.62 761.23 493.4 762.1 493.15 762.87 492.85 763.54 492.53 764.15 492.17 764.69 491.8 765.2 491.41 765.7 491.01 766.19 490.6 766.7 490.19 767.23 489.78 767.76 489.35 768.29 488.91 768.8 488.45 769.29 487.97 769.74 487.45 770.15 486.9 770.5 486.29 770.83 485.61 771.14 484.89 771.43 484.16 771.68 483.42 771.87 482.72 771.98 482.07 772 481.5 771.9 481 771.69 480.54 771.37 480.12 770.96 479.74 770.47 479.4 769.92 479.07 769.32 478.78 768.67 478.5 768 478.25 767.26 478.02 766.41 477.83 765.49 477.66 764.53 477.52 763.57 477.39 762.64 477.29 761.77 477.2 761 477.13 760.34 477.08 759.78 477.05 759.28 477.04 758.81 477.05 758.34 477.09 757.84 477.13 757.27 477.2 756.6 477.29 755.83 477.39 754.99 477.52 754.09 477.67 753.16 477.83 752.2 478.01 751.24 478.2 750.3 478.4 749.4 478.61 748.5 478.84 747.59 479.08 746.66 479.34 745.75 479.61 744.86 479.89 744.01 480.19 743.22 480.5 742.5 480.82 741.85 481.15 741.24 481.5 740.69 481.86 740.17 482.23 739.7 482.63 739.27 483.05 738.87 483.5 738.5 484 738.15 484.56 737.83 485.16 737.54 485.78 737.28 486.38 737.07 486.95 736.92 487.46 736.82Z" fill="none" stroke="#000" stroke-width="1.1" stroke-linejoin="round"/><path d="M461.2 715.7h7M464.7 712.2v7" stroke="#000" stroke-width="1" fill="none"/><path d="M486 745.4V764.5M482.5 745.4h7M482.5 764.5h7" stroke="#000" stroke-width="1.3" fill="none"/><path d="M477.2 755H492.7" stroke="#000" stroke-width="1.3" fill="none"/><path d="M477.2 751.5v7M492.7 751.5v7" stroke="#000" stroke-width="1.1" fill="none"/><rect x="482" y="751" width="8" height="8" fill="#000"/>
</g>
<path d="M338.6 842v-4.6M338.6 589.4v4.6M338.6 589.4h4.6M590.8 589.4h-4.6M370.12 842v-4.6M370.12 589.4v4.6M338.6 620.98h4.6M590.8 620.98h-4.6M401.65 842v-4.6M401.65 589.4v4.6M338.6 652.55h4.6M590.8 652.55h-4.6M433.18 842v-4.6M433.18 589.4v4.6M338.6 684.12h4.6M590.8 684.12h-4.6M464.7 842v-4.6M464.7 589.4v4.6M338.6 715.7h4.6M590.8 715.7h-4.6M496.22 842v-4.6M496.22 589.4v4.6M338.6 747.27h4.6M590.8 747.27h-4.6M527.75 842v-4.6M527.75 589.4v4.6M338.6 778.85h4.6M590.8 778.85h-4.6M559.27 842v-4.6M559.27 589.4v4.6M338.6 810.42h4.6M590.8 810.42h-4.6M590.8 842v-4.6M590.8 589.4v4.6M338.6 842h4.6M590.8 842h-4.6" stroke="#000" stroke-width="1.0" fill="none"/>
<rect x="338.6" y="589.4" width="252.2" height="252.6" fill="none" stroke="#000" stroke-width="1.6"/>
<g font-size="13.4"><text transform="translate(338.6 856.3) scale(0.93 1)" text-anchor="middle">2.0</text><text transform="translate(334.8 593.1) scale(0.93 1)" text-anchor="end">2.0</text><text transform="translate(370.12 856.3) scale(0.93 1)" text-anchor="middle">1.5</text><text transform="translate(334.8 624.68) scale(0.93 1)" text-anchor="end">1.5</text><text transform="translate(401.65 856.3) scale(0.93 1)" text-anchor="middle">1.0</text><text transform="translate(334.8 656.25) scale(0.93 1)" text-anchor="end">1.0</text><text transform="translate(433.18 856.3) scale(0.93 1)" text-anchor="middle">0.5</text><text transform="translate(334.8 687.83) scale(0.93 1)" text-anchor="end">0.5</text><text transform="translate(464.7 856.3) scale(0.93 1)" text-anchor="middle">0.0</text><text transform="translate(334.8 719.4) scale(0.93 1)" text-anchor="end">0.0</text><text transform="translate(496.22 856.3) scale(0.93 1)" text-anchor="middle">−0.5</text><text transform="translate(334.8 750.98) scale(0.93 1)" text-anchor="end">−0.5</text><text transform="translate(527.75 856.3) scale(0.93 1)" text-anchor="middle">−1.0</text><text transform="translate(334.8 782.55) scale(0.93 1)" text-anchor="end">−1.0</text><text transform="translate(559.27 856.3) scale(0.93 1)" text-anchor="middle">−1.5</text><text transform="translate(334.8 814.12) scale(0.93 1)" text-anchor="end">−1.5</text><text transform="translate(590.8 856.3) scale(0.93 1)" text-anchor="middle">−2.0</text><text transform="translate(334.8 845.7) scale(0.93 1)" text-anchor="end">−2.0</text></g>
<text x="520.4" y="611.4" font-size="12.5">2012.567</text>
</svg></body></html>
